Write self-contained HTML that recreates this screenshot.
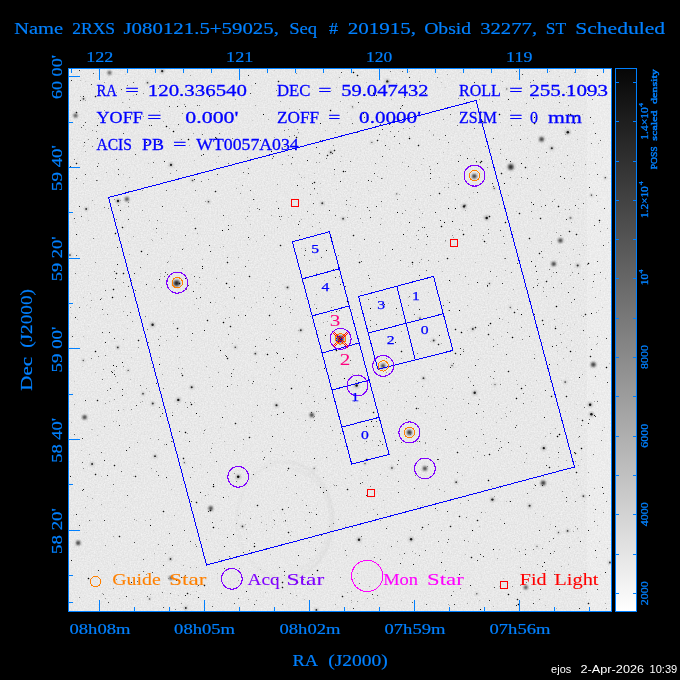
<!DOCTYPE html><html><head><meta charset="utf-8"><title>Chandra FOV</title>
<style>html,body{margin:0;padding:0;background:#000;width:680px;height:680px;overflow:hidden}svg{display:block}text{font-family:"Liberation Serif",serif;white-space:pre}.ss{font-family:"Liberation Sans",sans-serif}</style></head><body>
<svg width="680" height="680" viewBox="0 0 680 680">
<defs>
<linearGradient id="cb" x1="0" y1="0" x2="0" y2="1"><stop offset="0" stop-color="#060606"/><stop offset="1" stop-color="#ffffff"/></linearGradient>
<filter id="nz" x="0" y="0" width="100%" height="100%" color-interpolation-filters="sRGB"><feTurbulence type="fractalNoise" baseFrequency="0.7" numOctaves="2" seed="3" result="t"/><feColorMatrix in="t" type="matrix" values="0.12 0 0 0 0.85  0.12 0 0 0 0.85  0.12 0 0 0 0.85  0 0 0 0 1"/></filter>
<filter id="b1" x="-5%" y="-5%" width="110%" height="110%"><feGaussianBlur stdDeviation="0.9"/></filter>
<filter id="b0" x="-5%" y="-5%" width="110%" height="110%"><feGaussianBlur stdDeviation="0.45"/></filter>
<filter id="b2" x="-5%" y="-5%" width="110%" height="110%"><feGaussianBlur stdDeviation="1.3"/></filter>
<pattern id="chk" width="2" height="2" patternUnits="userSpaceOnUse"><rect x="0" y="0" width="1" height="1" fill="#ff0000"/><rect x="1" y="1" width="1" height="1" fill="#ff0000"/></pattern>
<clipPath id="cp"><rect x="69" y="69" width="542" height="542"/></clipPath>
</defs>
<rect width="680" height="680" fill="#000"/>
<rect x="69" y="69" width="542" height="542" fill="#e9e9e9" filter="url(#nz)"/>
<g clip-path="url(#cp)">
<rect x="587" y="69" width="24" height="542" fill="#ffffff" opacity="0.18"/>
<g fill="none" stroke="#c4c4c4" filter="url(#b1)">
<ellipse cx="285" cy="520" rx="48" ry="58" stroke-width="1.6" opacity="0.22"/>
<path d="M 285 462 A 48 58 0 0 1 285 578" stroke-width="1.6" opacity="0.25"/>
<path d="M 292 469 A 41 51 0 0 1 300 569" stroke-width="1.4" opacity="0.3"/>
</g>
<path fill="#000" d=""/>
<path fill="#000" opacity="0.1" d="M401 224h1v1h-1zM578 537h1v1h-1zM566 256h1v1h-1zM563 480h1v1h-1zM600 574h1v1h-1zM265 353h1v1h-1zM194 471h1v1h-1zM576 404h1v1h-1zM88 326h1v1h-1zM386 293h1v1h-1zM86 305h1v1h-1zM381 206h1v1h-1zM191 274h1v1h-1zM554 87h1v1h-1zM567 473h1v1h-1zM82 366h1v1h-1zM351 119h1v1h-1zM219 472h1v1h-1zM215 495h1v1h-1zM323 487h1v1h-1zM219 438h1v1h-1zM574 324h1v1h-1zM386 135h1v1h-1zM125 74h1v1h-1zM85 81h1v1h-1zM123 102h1v1h-1zM348 411h1v1h-1zM309 532h1v1h-1zM276 263h1v1h-1zM153 229h1v1h-1zM457 155h1v1h-1zM498 491h1v1h-1zM266 385h1v1h-1zM207 91h1v1h-1zM113 491h1v1h-1zM74 381h1v1h-1zM464 413h1v1h-1zM388 85h1v1h-1zM448 329h1v1h-1zM593 505h1v1h-1zM250 238h1v1h-1zM312 118h1v1h-1zM91 520h1v1h-1zM251 85h1v1h-1zM134 278h1v1h-1zM122 391h1v1h-1zM281 598h1v1h-1zM225 306h1v1h-1zM561 380h1v1h-1zM315 583h1v1h-1zM420 458h1v1h-1zM206 288h1v1h-1zM212 527h1v1h-1zM586 344h1v1h-1zM134 432h1v1h-1zM393 433h1v1h-1zM249 433h1v1h-1zM274 70h1v1h-1zM460 72h1v1h-1zM412 266h1v1h-1zM350 530h1v1h-1zM80 264h1v1h-1zM298 133h1v1h-1zM247 306h1v1h-1zM563 333h1v1h-1zM153 530h1v1h-1zM348 99h1v1h-1zM312 89h1v1h-1zM340 236h1v1h-1zM87 304h1v1h-1zM388 337h1v1h-1zM126 393h1v1h-1zM388 146h1v1h-1zM289 418h1v1h-1zM94 204h1v1h-1zM185 440h1v1h-1zM549 125h1v1h-1zM127 234h1v1h-1zM84 532h1v1h-1zM117 222h1v1h-1zM406 236h1v1h-1zM500 80h1v1h-1zM230 129h1v1h-1zM477 173h1v1h-1zM511 140h1v1h-1zM584 570h1v1h-1zM445 87h1v1h-1zM72 139h1v1h-1zM292 393h1v1h-1zM514 467h1v1h-1zM471 299h1v1h-1zM329 316h1v1h-1zM526 147h1v1h-1zM277 296h1v1h-1zM573 170h1v1h-1zM547 233h1v1h-1zM481 254h1v1h-1zM593 512h1v1h-1zM127 424h1v1h-1zM489 148h1v1h-1zM508 299h1v1h-1zM272 388h1v1h-1zM428 580h1v1h-1zM519 329h1v1h-1zM282 284h1v1h-1zM73 515h1v1h-1zM600 290h1v1h-1zM306 390h1v1h-1zM71 313h1v1h-1zM459 528h1v1h-1zM86 532h1v1h-1zM317 259h1v1h-1zM564 167h1v1h-1zM405 158h1v1h-1zM589 599h1v1h-1zM252 120h1v1h-1zM378 450h1v1h-1zM530 141h1v1h-1z"/>
<path fill="#000" opacity="0.2" d="M289 108h1v1h-1zM133 476h1v1h-1zM149 391h1v1h-1zM387 526h1v1h-1zM575 130h1v1h-1zM211 510h1v1h-1zM210 511h1v1h-1zM209 510h1v1h-1zM210 509h1v1h-1zM250 224h1v1h-1zM537 471h1v1h-1zM283 521h1v1h-1zM123 174h1v1h-1zM282 455h1v1h-1zM445 241h1v1h-1zM270 315h1v1h-1zM269 316h1v1h-1zM268 315h1v1h-1zM269 314h1v1h-1zM423 527h1v1h-1zM422 528h1v1h-1zM421 527h1v1h-1zM422 526h1v1h-1zM443 152h1v1h-1zM156 232h1v1h-1zM269 286h1v1h-1zM196 228h1v1h-1zM195 229h1v1h-1zM194 228h1v1h-1zM195 227h1v1h-1zM483 417h1v1h-1zM304 177h1v1h-1zM258 505h1v1h-1zM257 506h1v1h-1zM256 505h1v1h-1zM257 504h1v1h-1zM139 340h1v1h-1zM138 341h1v1h-1zM137 340h1v1h-1zM138 339h1v1h-1zM315 182h1v1h-1zM314 183h1v1h-1zM313 182h1v1h-1zM314 181h1v1h-1zM577 472h1v1h-1zM576 473h1v1h-1zM575 472h1v1h-1zM576 471h1v1h-1zM318 370h1v1h-1zM345 526h1v1h-1zM439 177h1v1h-1zM556 328h1v1h-1zM555 329h1v1h-1zM554 328h1v1h-1zM555 327h1v1h-1zM591 356h1v1h-1zM590 357h1v1h-1zM589 356h1v1h-1zM590 355h1v1h-1zM496 422h1v1h-1zM409 71h1v1h-1zM469 148h1v1h-1zM362 222h1v1h-1zM593 393h1v1h-1zM120 200h1v1h-1zM473 192h1v1h-1zM283 582h1v1h-1zM282 583h1v1h-1zM281 582h1v1h-1zM282 581h1v1h-1zM493 606h1v1h-1zM291 164h1v1h-1zM479 526h1v1h-1zM554 571h1v1h-1zM549 529h1v1h-1zM517 184h1v1h-1zM556 608h1v1h-1zM491 384h1v1h-1zM151 239h1v1h-1zM458 452h1v1h-1zM457 453h1v1h-1zM456 452h1v1h-1zM457 451h1v1h-1zM150 356h1v1h-1zM491 323h1v1h-1zM490 324h1v1h-1zM489 323h1v1h-1zM490 322h1v1h-1zM341 156h1v1h-1zM527 247h1v1h-1zM273 519h1v1h-1zM228 358h1v1h-1zM227 359h1v1h-1zM226 358h1v1h-1zM227 357h1v1h-1zM476 327h1v1h-1zM475 328h1v1h-1zM474 327h1v1h-1zM475 326h1v1h-1zM557 306h1v1h-1zM556 307h1v1h-1zM555 306h1v1h-1zM556 305h1v1h-1zM370 308h1v1h-1zM428 292h1v1h-1zM279 81h1v1h-1zM278 82h1v1h-1zM277 81h1v1h-1zM278 80h1v1h-1zM348 489h1v1h-1zM347 490h1v1h-1zM346 489h1v1h-1zM347 488h1v1h-1zM442 271h1v1h-1zM586 245h1v1h-1zM270 554h1v1h-1zM479 600h1v1h-1zM224 322h1v1h-1zM223 323h1v1h-1zM222 322h1v1h-1zM223 321h1v1h-1zM383 500h1v1h-1zM468 446h1v1h-1zM540 253h1v1h-1zM539 254h1v1h-1zM538 253h1v1h-1zM539 252h1v1h-1zM297 137h1v1h-1zM296 138h1v1h-1zM295 137h1v1h-1zM296 136h1v1h-1zM402 351h1v1h-1zM401 352h1v1h-1zM400 351h1v1h-1zM401 350h1v1h-1zM313 396h1v1h-1zM178 328h1v1h-1zM177 329h1v1h-1zM176 328h1v1h-1zM177 327h1v1h-1zM450 341h1v1h-1zM367 512h1v1h-1zM218 346h1v1h-1zM133 95h1v1h-1zM559 76h1v1h-1zM233 404h1v1h-1zM245 218h1v1h-1zM236 423h1v1h-1zM235 424h1v1h-1zM234 423h1v1h-1zM235 422h1v1h-1zM137 463h1v1h-1zM279 371h1v1h-1zM91 429h1v1h-1zM177 404h1v1h-1zM450 281h1v1h-1zM531 401h1v1h-1zM333 306h1v1h-1zM313 589h1v1h-1zM270 463h1v1h-1zM379 374h1v1h-1zM179 357h1v1h-1zM298 582h1v1h-1zM297 583h1v1h-1zM296 582h1v1h-1zM297 581h1v1h-1zM333 484h1v1h-1zM231 326h1v1h-1zM230 327h1v1h-1zM229 326h1v1h-1zM230 325h1v1h-1zM127 328h1v1h-1zM83 146h1v1h-1zM430 341h1v1h-1zM456 329h1v1h-1zM455 330h1v1h-1zM454 329h1v1h-1zM455 328h1v1h-1zM357 436h1v1h-1zM442 226h1v1h-1zM441 227h1v1h-1zM440 226h1v1h-1zM441 225h1v1h-1zM227 283h1v1h-1zM226 284h1v1h-1zM225 283h1v1h-1zM226 282h1v1h-1zM217 573h1v1h-1zM373 546h1v1h-1zM217 104h1v1h-1zM285 360h1v1h-1zM408 266h1v1h-1zM485 120h1v1h-1zM502 173h1v1h-1zM501 174h1v1h-1zM500 173h1v1h-1zM501 172h1v1h-1zM379 259h1v1h-1zM527 138h1v1h-1zM154 553h1v1h-1zM194 160h1v1h-1zM411 85h1v1h-1zM410 86h1v1h-1zM409 85h1v1h-1zM410 84h1v1h-1zM547 281h1v1h-1zM546 282h1v1h-1zM545 281h1v1h-1zM546 280h1v1h-1zM576 453h1v1h-1zM575 454h1v1h-1zM574 453h1v1h-1zM575 452h1v1h-1zM356 506h1v1h-1zM136 476h1v1h-1zM135 477h1v1h-1zM134 476h1v1h-1zM135 475h1v1h-1zM565 127h1v1h-1zM469 197h1v1h-1zM214 527h1v1h-1zM213 528h1v1h-1zM212 527h1v1h-1zM213 526h1v1h-1zM309 558h1v1h-1zM532 218h1v1h-1zM374 412h1v1h-1zM373 413h1v1h-1zM372 412h1v1h-1zM373 411h1v1h-1zM513 337h1v1h-1zM512 338h1v1h-1zM511 337h1v1h-1zM512 336h1v1h-1zM609 363h1v1h-1zM488 293h1v1h-1zM559 206h1v1h-1zM558 207h1v1h-1zM557 206h1v1h-1zM558 205h1v1h-1zM445 107h1v1h-1zM256 241h1v1h-1zM545 605h1v1h-1zM356 182h1v1h-1zM517 398h1v1h-1zM516 399h1v1h-1zM515 398h1v1h-1zM516 397h1v1h-1zM600 220h1v1h-1zM599 221h1v1h-1zM598 220h1v1h-1zM599 219h1v1h-1zM515 312h1v1h-1zM514 313h1v1h-1zM513 312h1v1h-1zM514 311h1v1h-1zM221 520h1v1h-1zM462 475h1v1h-1zM133 599h1v1h-1zM228 496h1v1h-1zM184 458h1v1h-1zM183 459h1v1h-1zM182 458h1v1h-1zM183 457h1v1h-1zM581 459h1v1h-1zM381 218h1v1h-1zM318 403h1v1h-1zM518 599h1v1h-1zM517 600h1v1h-1zM516 599h1v1h-1zM517 598h1v1h-1zM171 489h1v1h-1zM228 262h1v1h-1zM227 263h1v1h-1zM226 262h1v1h-1zM227 261h1v1h-1zM421 164h1v1h-1zM283 587h1v1h-1zM282 588h1v1h-1zM281 587h1v1h-1zM282 586h1v1h-1zM343 596h1v1h-1zM342 597h1v1h-1zM341 596h1v1h-1zM342 595h1v1h-1zM179 99h1v1h-1zM217 313h1v1h-1zM344 171h1v1h-1zM343 172h1v1h-1zM342 171h1v1h-1zM343 170h1v1h-1zM116 233h1v1h-1zM115 234h1v1h-1zM114 233h1v1h-1zM115 232h1v1h-1zM536 380h1v1h-1zM577 139h1v1h-1zM247 244h1v1h-1zM197 502h1v1h-1zM196 503h1v1h-1zM195 502h1v1h-1zM196 501h1v1h-1zM265 548h1v1h-1zM315 233h1v1h-1zM170 256h1v1h-1zM320 183h1v1h-1zM509 594h1v1h-1zM508 595h1v1h-1zM507 594h1v1h-1zM508 593h1v1h-1zM325 130h1v1h-1zM568 564h1v1h-1zM366 82h1v1h-1zM131 357h1v1h-1zM96 474h1v1h-1zM95 475h1v1h-1zM94 474h1v1h-1zM95 473h1v1h-1zM434 397h1v1h-1zM483 121h1v1h-1zM482 122h1v1h-1zM481 121h1v1h-1zM482 120h1v1h-1zM215 302h1v1h-1zM482 161h1v1h-1zM481 162h1v1h-1zM480 161h1v1h-1zM481 160h1v1h-1zM475 337h1v1h-1zM571 114h1v1h-1zM570 115h1v1h-1zM569 114h1v1h-1zM570 113h1v1h-1zM367 459h1v1h-1zM366 460h1v1h-1zM365 459h1v1h-1zM366 458h1v1h-1zM345 524h1v1h-1zM472 557h1v1h-1zM471 558h1v1h-1zM470 557h1v1h-1zM471 556h1v1h-1zM304 599h1v1h-1zM292 388h1v1h-1zM291 389h1v1h-1zM290 388h1v1h-1zM291 387h1v1h-1zM550 467h1v1h-1zM549 468h1v1h-1zM548 467h1v1h-1zM549 466h1v1h-1zM565 411h1v1h-1zM310 427h1v1h-1zM419 145h1v1h-1zM418 146h1v1h-1zM417 145h1v1h-1zM418 144h1v1h-1zM567 396h1v1h-1zM566 397h1v1h-1zM565 396h1v1h-1zM566 395h1v1h-1zM90 293h1v1h-1zM419 209h1v1h-1zM415 248h1v1h-1zM576 479h1v1h-1zM407 230h1v1h-1zM216 162h1v1h-1zM481 162h1v1h-1zM480 163h1v1h-1zM479 162h1v1h-1zM480 161h1v1h-1zM490 454h1v1h-1zM489 455h1v1h-1zM488 454h1v1h-1zM489 453h1v1h-1zM327 91h1v1h-1zM231 558h1v1h-1zM230 559h1v1h-1zM229 558h1v1h-1zM230 557h1v1h-1zM209 377h1v1h-1zM519 256h1v1h-1zM186 432h1v1h-1zM185 433h1v1h-1zM184 432h1v1h-1zM185 431h1v1h-1zM462 224h1v1h-1zM490 216h1v1h-1zM489 217h1v1h-1zM488 216h1v1h-1zM489 215h1v1h-1zM243 444h1v1h-1zM351 475h1v1h-1zM449 605h1v1h-1zM88 275h1v1h-1zM526 458h1v1h-1zM136 520h1v1h-1zM214 486h1v1h-1zM213 487h1v1h-1zM212 486h1v1h-1zM213 485h1v1h-1zM351 602h1v1h-1zM500 122h1v1h-1zM460 516h1v1h-1zM459 517h1v1h-1zM458 516h1v1h-1zM459 515h1v1h-1zM89 578h1v1h-1zM88 579h1v1h-1zM87 578h1v1h-1zM88 577h1v1h-1zM160 276h1v1h-1zM71 422h1v1h-1zM377 121h1v1h-1zM562 323h1v1h-1zM183 375h1v1h-1zM182 376h1v1h-1zM181 375h1v1h-1zM182 374h1v1h-1zM314 189h1v1h-1zM285 304h1v1h-1zM410 138h1v1h-1zM409 139h1v1h-1zM408 138h1v1h-1zM409 137h1v1h-1zM189 139h1v1h-1zM188 140h1v1h-1zM187 139h1v1h-1zM188 138h1v1h-1zM307 315h1v1h-1zM571 86h1v1h-1zM570 87h1v1h-1zM569 86h1v1h-1zM570 85h1v1h-1zM454 258h1v1h-1zM224 441h1v1h-1zM589 263h1v1h-1zM588 264h1v1h-1zM587 263h1v1h-1zM588 262h1v1h-1zM491 148h1v1h-1zM314 582h1v1h-1zM194 402h1v1h-1zM535 265h1v1h-1zM482 239h1v1h-1zM598 86h1v1h-1zM268 354h1v1h-1zM267 355h1v1h-1zM266 354h1v1h-1zM267 353h1v1h-1zM464 234h1v1h-1zM463 235h1v1h-1zM462 234h1v1h-1zM463 233h1v1h-1zM77 319h1v1h-1zM216 191h1v1h-1zM215 192h1v1h-1zM214 191h1v1h-1zM215 190h1v1h-1zM283 509h1v1h-1zM282 510h1v1h-1zM281 509h1v1h-1zM282 508h1v1h-1zM314 173h1v1h-1zM370 522h1v1h-1zM377 426h1v1h-1zM554 403h1v1h-1zM83 336h1v1h-1zM361 470h1v1h-1zM84 145h1v1h-1zM526 167h1v1h-1zM525 168h1v1h-1zM524 167h1v1h-1zM525 166h1v1h-1zM180 283h1v1h-1zM179 284h1v1h-1zM178 283h1v1h-1zM179 282h1v1h-1zM389 339h1v1h-1zM324 239h1v1h-1zM265 139h1v1h-1zM455 182h1v1h-1zM533 395h1v1h-1zM256 302h1v1h-1zM520 213h1v1h-1zM519 214h1v1h-1zM518 213h1v1h-1zM519 212h1v1h-1zM348 301h1v1h-1zM347 302h1v1h-1zM346 301h1v1h-1zM347 300h1v1h-1zM350 496h1v1h-1zM128 241h1v1h-1zM582 448h1v1h-1zM581 449h1v1h-1zM580 448h1v1h-1zM581 447h1v1h-1zM255 546h1v1h-1zM254 547h1v1h-1zM253 546h1v1h-1zM254 545h1v1h-1zM489 480h1v1h-1zM488 481h1v1h-1zM487 480h1v1h-1zM488 479h1v1h-1zM117 273h1v1h-1zM116 274h1v1h-1zM115 273h1v1h-1zM116 272h1v1h-1zM160 273h1v1h-1zM604 427h1v1h-1zM123 227h1v1h-1zM122 228h1v1h-1zM121 227h1v1h-1zM122 226h1v1h-1zM553 166h1v1h-1zM321 542h1v1h-1zM589 603h1v1h-1zM588 604h1v1h-1zM587 603h1v1h-1zM588 602h1v1h-1zM392 122h1v1h-1zM378 140h1v1h-1zM377 141h1v1h-1zM376 140h1v1h-1zM377 139h1v1h-1zM486 243h1v1h-1zM465 554h1v1h-1zM365 546h1v1h-1zM331 110h1v1h-1zM330 111h1v1h-1zM329 110h1v1h-1zM330 109h1v1h-1zM120 536h1v1h-1zM119 537h1v1h-1zM118 536h1v1h-1zM119 535h1v1h-1zM192 404h1v1h-1zM191 405h1v1h-1zM190 404h1v1h-1zM191 403h1v1h-1zM124 273h1v1h-1zM123 274h1v1h-1zM122 273h1v1h-1zM123 272h1v1h-1zM552 396h1v1h-1zM551 397h1v1h-1zM550 396h1v1h-1zM551 395h1v1h-1zM607 367h1v1h-1zM606 368h1v1h-1zM605 367h1v1h-1zM606 366h1v1h-1zM288 217h1v1h-1zM250 276h1v1h-1zM249 277h1v1h-1zM248 276h1v1h-1zM249 275h1v1h-1zM159 141h1v1h-1zM158 142h1v1h-1zM157 141h1v1h-1zM158 140h1v1h-1zM397 541h1v1h-1zM273 303h1v1h-1zM197 586h1v1h-1zM582 243h1v1h-1zM462 141h1v1h-1zM77 112h1v1h-1zM76 113h1v1h-1zM75 112h1v1h-1zM76 111h1v1h-1zM98 400h1v1h-1zM97 401h1v1h-1zM96 400h1v1h-1zM97 399h1v1h-1zM402 558h1v1h-1zM336 87h1v1h-1zM441 82h1v1h-1zM577 234h1v1h-1zM576 235h1v1h-1zM575 234h1v1h-1zM576 233h1v1h-1zM388 303h1v1h-1zM161 222h1v1h-1zM440 193h1v1h-1zM439 194h1v1h-1zM438 193h1v1h-1zM439 192h1v1h-1zM249 239h1v1h-1zM119 598h1v1h-1zM561 235h1v1h-1zM571 351h1v1h-1zM570 352h1v1h-1zM569 351h1v1h-1zM570 350h1v1h-1zM456 353h1v1h-1zM455 354h1v1h-1zM454 353h1v1h-1zM455 352h1v1h-1zM260 582h1v1h-1zM485 241h1v1h-1zM484 242h1v1h-1zM483 241h1v1h-1zM484 240h1v1h-1zM391 99h1v1h-1zM249 438h1v1h-1zM299 174h1v1h-1zM437 448h1v1h-1zM85 129h1v1h-1zM113 297h1v1h-1zM112 298h1v1h-1zM111 297h1v1h-1zM112 296h1v1h-1zM586 314h1v1h-1zM585 315h1v1h-1zM584 314h1v1h-1zM585 313h1v1h-1zM141 336h1v1h-1zM320 228h1v1h-1zM178 595h1v1h-1zM265 592h1v1h-1zM284 513h1v1h-1zM315 548h1v1h-1zM364 443h1v1h-1zM408 297h1v1h-1zM116 146h1v1h-1zM354 235h1v1h-1zM353 236h1v1h-1zM352 235h1v1h-1zM353 234h1v1h-1zM164 511h1v1h-1zM163 512h1v1h-1zM162 511h1v1h-1zM163 510h1v1h-1zM336 189h1v1h-1zM522 271h1v1h-1zM289 532h1v1h-1zM288 533h1v1h-1zM287 532h1v1h-1zM288 531h1v1h-1zM260 569h1v1h-1zM500 519h1v1h-1zM125 507h1v1h-1zM331 90h1v1h-1zM81 450h1v1h-1zM90 307h1v1h-1zM399 194h1v1h-1zM522 388h1v1h-1zM521 389h1v1h-1zM520 388h1v1h-1zM521 387h1v1h-1zM303 188h1v1h-1zM502 319h1v1h-1zM439 297h1v1h-1zM272 527h1v1h-1zM183 207h1v1h-1zM530 238h1v1h-1zM529 239h1v1h-1zM528 238h1v1h-1zM529 237h1v1h-1zM142 251h1v1h-1zM141 252h1v1h-1zM140 251h1v1h-1zM141 250h1v1h-1zM416 96h1v1h-1zM358 75h1v1h-1zM357 76h1v1h-1zM356 75h1v1h-1zM357 74h1v1h-1zM475 116h1v1h-1zM97 435h1v1h-1zM174 131h1v1h-1zM173 132h1v1h-1zM172 131h1v1h-1zM173 130h1v1h-1zM324 280h1v1h-1zM377 542h1v1h-1zM557 351h1v1h-1zM543 320h1v1h-1zM542 321h1v1h-1zM541 320h1v1h-1zM542 319h1v1h-1zM570 231h1v1h-1zM569 232h1v1h-1zM568 231h1v1h-1zM569 230h1v1h-1zM602 307h1v1h-1zM150 363h1v1h-1zM506 222h1v1h-1zM505 223h1v1h-1zM504 222h1v1h-1zM505 221h1v1h-1zM577 418h1v1h-1zM590 585h1v1h-1zM500 114h1v1h-1zM499 115h1v1h-1zM498 114h1v1h-1zM499 113h1v1h-1zM475 262h1v1h-1zM439 344h1v1h-1zM438 345h1v1h-1zM437 344h1v1h-1zM438 343h1v1h-1zM448 258h1v1h-1zM447 259h1v1h-1zM446 258h1v1h-1zM447 257h1v1h-1zM406 365h1v1h-1zM499 586h1v1h-1zM543 342h1v1h-1zM589 174h1v1h-1zM337 350h1v1h-1zM336 351h1v1h-1zM335 350h1v1h-1zM336 349h1v1h-1zM413 262h1v1h-1zM412 263h1v1h-1zM411 262h1v1h-1zM412 261h1v1h-1zM167 126h1v1h-1zM166 127h1v1h-1zM165 126h1v1h-1zM166 125h1v1h-1zM354 72h1v1h-1zM353 73h1v1h-1zM352 72h1v1h-1zM353 71h1v1h-1zM123 409h1v1h-1zM238 338h1v1h-1zM365 449h1v1h-1zM404 407h1v1h-1zM519 604h1v1h-1zM518 605h1v1h-1zM517 604h1v1h-1zM518 603h1v1h-1zM218 528h1v1h-1zM383 400h1v1h-1zM77 163h1v1h-1zM76 164h1v1h-1zM75 163h1v1h-1zM76 162h1v1h-1zM535 123h1v1h-1zM534 124h1v1h-1zM533 123h1v1h-1zM534 122h1v1h-1zM101 476h1v1h-1zM200 464h1v1h-1zM368 190h1v1h-1zM360 262h1v1h-1zM359 263h1v1h-1zM358 262h1v1h-1zM359 261h1v1h-1zM461 421h1v1h-1zM597 201h1v1h-1zM559 212h1v1h-1zM96 351h1v1h-1zM95 352h1v1h-1zM94 351h1v1h-1zM95 350h1v1h-1zM387 454h1v1h-1zM535 513h1v1h-1zM506 407h1v1h-1zM451 526h1v1h-1zM450 527h1v1h-1zM449 526h1v1h-1zM450 525h1v1h-1zM511 450h1v1h-1zM560 434h1v1h-1zM559 435h1v1h-1zM558 434h1v1h-1zM559 433h1v1h-1zM220 247h1v1h-1zM83 297h1v1h-1zM273 510h1v1h-1zM348 210h1v1h-1zM446 420h1v1h-1zM208 320h1v1h-1zM207 321h1v1h-1zM206 320h1v1h-1zM207 319h1v1h-1zM116 421h1v1h-1zM347 112h1v1h-1zM205 585h1v1h-1zM204 586h1v1h-1zM203 585h1v1h-1zM204 584h1v1h-1zM506 501h1v1h-1zM521 87h1v1h-1zM577 529h1v1h-1zM550 524h1v1h-1zM541 218h1v1h-1zM540 219h1v1h-1zM539 218h1v1h-1zM540 217h1v1h-1zM194 304h1v1h-1zM583 420h1v1h-1zM582 421h1v1h-1zM581 420h1v1h-1zM582 419h1v1h-1zM281 245h1v1h-1zM280 246h1v1h-1zM279 245h1v1h-1zM280 244h1v1h-1zM266 524h1v1h-1zM335 150h1v1h-1zM334 151h1v1h-1zM333 150h1v1h-1zM334 149h1v1h-1zM318 570h1v1h-1zM317 571h1v1h-1zM316 570h1v1h-1zM317 569h1v1h-1zM309 114h1v1h-1zM261 516h1v1h-1zM183 248h1v1h-1zM499 549h1v1h-1zM249 207h1v1h-1zM254 199h1v1h-1zM225 406h1v1h-1zM501 336h1v1h-1zM350 197h1v1h-1zM576 116h1v1h-1zM575 117h1v1h-1zM574 116h1v1h-1zM575 115h1v1h-1zM196 591h1v1h-1zM297 419h1v1h-1zM417 408h1v1h-1zM416 409h1v1h-1zM415 408h1v1h-1zM416 407h1v1h-1zM295 583h1v1h-1zM489 334h1v1h-1zM488 335h1v1h-1zM487 334h1v1h-1zM488 333h1v1h-1zM462 332h1v1h-1zM461 333h1v1h-1zM460 332h1v1h-1zM461 331h1v1h-1zM95 372h1v1h-1zM443 397h1v1h-1zM553 553h1v1h-1zM503 578h1v1h-1zM167 233h1v1h-1zM409 136h1v1h-1zM598 310h1v1h-1zM301 248h1v1h-1zM131 424h1v1h-1zM148 163h1v1h-1zM102 280h1v1h-1zM302 500h1v1h-1zM130 379h1v1h-1zM199 145h1v1h-1zM204 90h1v1h-1zM335 444h1v1h-1zM208 494h1v1h-1zM245 524h1v1h-1zM496 309h1v1h-1zM478 520h1v1h-1zM477 521h1v1h-1zM476 520h1v1h-1zM477 519h1v1h-1zM559 582h1v1h-1zM75 222h1v1h-1zM447 300h1v1h-1zM217 138h1v1h-1zM216 139h1v1h-1zM215 138h1v1h-1zM216 137h1v1h-1zM559 447h1v1h-1zM578 199h1v1h-1zM467 330h1v1h-1zM291 531h1v1h-1zM401 600h1v1h-1zM291 202h1v1h-1zM80 80h1v1h-1zM103 314h1v1h-1zM399 554h1v1h-1zM548 164h1v1h-1zM581 315h1v1h-1zM96 96h1v1h-1zM95 97h1v1h-1zM94 96h1v1h-1zM95 95h1v1h-1zM175 189h1v1h-1zM569 472h1v1h-1zM558 436h1v1h-1zM557 437h1v1h-1zM556 436h1v1h-1zM557 435h1v1h-1zM582 114h1v1h-1zM88 220h1v1h-1zM399 119h1v1h-1zM398 120h1v1h-1zM397 119h1v1h-1zM398 118h1v1h-1zM188 593h1v1h-1zM187 594h1v1h-1zM186 593h1v1h-1zM187 592h1v1h-1zM92 429h1v1h-1zM317 359h1v1h-1zM298 330h1v1h-1zM289 468h1v1h-1zM288 469h1v1h-1zM287 468h1v1h-1zM288 467h1v1h-1zM250 437h1v1h-1zM249 438h1v1h-1zM248 437h1v1h-1zM249 436h1v1h-1zM485 512h1v1h-1zM584 501h1v1h-1zM205 429h1v1h-1zM509 501h1v1h-1zM220 427h1v1h-1zM328 155h1v1h-1zM327 156h1v1h-1zM326 155h1v1h-1zM327 154h1v1h-1zM328 91h1v1h-1zM240 513h1v1h-1zM516 211h1v1h-1zM575 351h1v1h-1zM509 371h1v1h-1zM508 372h1v1h-1zM507 371h1v1h-1zM508 370h1v1h-1zM115 465h1v1h-1zM114 466h1v1h-1zM113 465h1v1h-1zM114 464h1v1h-1zM114 289h1v1h-1zM113 290h1v1h-1zM112 289h1v1h-1zM113 288h1v1h-1z"/>
<path fill="#000" opacity="0.3" d="M206 366h1v1h-1zM385 255h1v1h-1zM262 451h1v1h-1zM190 594h1v1h-1zM152 240h1v1h-1zM271 415h1v1h-1zM559 252h1v1h-1zM555 428h1v1h-1zM499 204h1v1h-1zM223 246h1v1h-1zM193 133h1v1h-1zM316 508h1v1h-1zM164 444h1v1h-1zM521 88h1v1h-1zM511 237h1v1h-1zM340 161h1v1h-1zM473 93h1v1h-1zM571 340h1v1h-1zM149 220h1v1h-1zM367 598h1v1h-1zM573 531h1v1h-1zM278 152h1v1h-1zM358 374h1v1h-1zM410 530h1v1h-1zM319 162h1v1h-1zM396 314h1v1h-1zM92 200h1v1h-1zM266 467h1v1h-1zM500 153h1v1h-1zM369 586h1v1h-1zM607 548h1v1h-1zM196 282h1v1h-1zM386 512h1v1h-1zM352 374h1v1h-1zM397 541h1v1h-1zM150 594h1v1h-1zM356 344h1v1h-1zM389 149h1v1h-1zM565 134h1v1h-1zM494 496h1v1h-1zM114 564h1v1h-1zM109 401h1v1h-1zM437 510h1v1h-1zM405 455h1v1h-1zM373 598h1v1h-1zM116 92h1v1h-1zM129 177h1v1h-1zM271 215h1v1h-1zM301 177h1v1h-1zM339 123h1v1h-1zM492 101h1v1h-1zM474 158h1v1h-1zM309 541h1v1h-1zM334 174h1v1h-1zM104 82h1v1h-1zM571 178h1v1h-1zM448 604h1v1h-1zM301 219h1v1h-1zM561 566h1v1h-1zM162 374h1v1h-1zM199 416h1v1h-1zM159 111h1v1h-1zM154 287h1v1h-1zM85 507h1v1h-1zM553 88h1v1h-1zM218 156h1v1h-1zM151 468h1v1h-1zM497 558h1v1h-1zM508 322h1v1h-1zM339 344h1v1h-1zM566 460h1v1h-1zM433 134h1v1h-1zM335 604h1v1h-1zM98 118h1v1h-1zM350 249h1v1h-1zM425 413h1v1h-1zM598 143h1v1h-1zM100 89h1v1h-1zM269 337h1v1h-1zM502 81h1v1h-1zM140 402h1v1h-1zM106 172h1v1h-1zM596 344h1v1h-1zM318 411h1v1h-1zM361 291h1v1h-1zM431 369h1v1h-1zM463 399h1v1h-1zM80 96h1v1h-1zM545 436h1v1h-1zM85 100h1v1h-1zM194 218h1v1h-1zM592 287h1v1h-1zM251 307h1v1h-1zM582 374h1v1h-1zM160 301h1v1h-1zM294 111h1v1h-1zM423 158h1v1h-1zM533 590h1v1h-1zM597 525h1v1h-1zM327 321h1v1h-1zM608 242h1v1h-1zM387 404h1v1h-1zM599 541h1v1h-1zM145 520h1v1h-1zM288 540h1v1h-1zM187 433h1v1h-1zM318 330h1v1h-1zM106 146h1v1h-1zM428 485h1v1h-1zM534 484h1v1h-1zM534 354h1v1h-1zM350 205h1v1h-1zM172 441h1v1h-1zM235 99h1v1h-1zM468 541h1v1h-1zM481 429h1v1h-1zM306 432h1v1h-1zM567 325h1v1h-1zM284 439h1v1h-1zM476 162h1v1h-1zM441 343h1v1h-1zM345 478h1v1h-1zM104 120h1v1h-1zM433 135h1v1h-1zM508 195h1v1h-1zM454 175h1v1h-1zM605 603h1v1h-1zM248 599h1v1h-1zM276 201h1v1h-1zM543 516h1v1h-1zM290 535h1v1h-1zM401 106h1v1h-1zM129 254h1v1h-1zM579 254h1v1h-1zM238 580h1v1h-1zM163 121h1v1h-1zM606 608h1v1h-1zM302 377h1v1h-1zM453 237h1v1h-1zM162 409h1v1h-1zM340 101h1v1h-1zM292 309h1v1h-1zM415 170h1v1h-1zM248 380h1v1h-1zM491 486h1v1h-1zM444 491h1v1h-1zM578 208h1v1h-1zM238 515h1v1h-1zM261 522h1v1h-1zM317 193h1v1h-1zM372 440h1v1h-1zM357 317h1v1h-1zM354 401h1v1h-1zM133 236h1v1h-1zM419 479h1v1h-1zM311 512h1v1h-1zM350 205h1v1h-1zM386 166h1v1h-1zM150 438h1v1h-1zM183 565h1v1h-1zM271 341h1v1h-1zM468 284h1v1h-1zM83 183h1v1h-1zM142 401h1v1h-1zM551 243h1v1h-1zM314 304h1v1h-1zM493 339h1v1h-1zM168 261h1v1h-1zM594 401h1v1h-1zM283 94h1v1h-1zM538 283h1v1h-1zM386 372h1v1h-1zM492 91h1v1h-1zM435 406h1v1h-1zM161 287h1v1h-1zM470 381h1v1h-1zM380 474h1v1h-1zM280 101h1v1h-1zM169 128h1v1h-1zM203 433h1v1h-1zM339 77h1v1h-1zM448 310h1v1h-1zM569 188h1v1h-1zM573 165h1v1h-1zM393 287h1v1h-1zM212 443h1v1h-1zM274 137h1v1h-1zM551 276h1v1h-1zM251 421h1v1h-1zM465 210h1v1h-1zM533 488h1v1h-1zM249 211h1v1h-1zM410 434h1v1h-1zM305 248h1v1h-1zM267 290h1v1h-1zM409 128h1v1h-1zM296 595h1v1h-1zM387 476h1v1h-1zM602 157h1v1h-1zM122 102h1v1h-1zM398 390h1v1h-1zM517 384h1v1h-1zM558 457h1v1h-1zM302 282h1v1h-1zM513 231h1v1h-1zM238 257h1v1h-1zM101 504h1v1h-1zM352 309h1v1h-1zM516 380h1v1h-1zM526 157h1v1h-1zM505 413h1v1h-1zM603 90h1v1h-1zM578 465h1v1h-1zM429 130h1v1h-1zM74 404h1v1h-1zM344 446h1v1h-1zM359 408h1v1h-1zM159 357h1v1h-1zM231 225h1v1h-1zM197 233h1v1h-1zM168 578h1v1h-1zM558 466h1v1h-1zM554 199h1v1h-1zM415 199h1v1h-1zM92 498h1v1h-1zM114 370h1v1h-1zM415 553h1v1h-1zM520 592h1v1h-1zM447 74h1v1h-1zM248 260h1v1h-1zM347 592h1v1h-1zM578 485h1v1h-1zM272 324h1v1h-1zM166 340h1v1h-1zM563 358h1v1h-1zM515 548h1v1h-1zM274 524h1v1h-1zM174 515h1v1h-1zM425 450h1v1h-1zM231 384h1v1h-1zM373 92h1v1h-1zM236 188h1v1h-1zM459 274h1v1h-1zM277 227h1v1h-1zM352 440h1v1h-1zM87 496h1v1h-1zM181 484h1v1h-1zM89 454h1v1h-1zM160 86h1v1h-1zM354 578h1v1h-1zM351 591h1v1h-1zM85 151h1v1h-1zM478 543h1v1h-1zM377 176h1v1h-1zM505 270h1v1h-1zM607 228h1v1h-1zM547 82h1v1h-1zM366 403h1v1h-1zM200 284h1v1h-1zM313 417h1v1h-1zM549 457h1v1h-1zM202 259h1v1h-1zM575 526h1v1h-1zM379 440h1v1h-1zM172 412h1v1h-1zM396 83h1v1h-1zM295 375h1v1h-1zM392 579h1v1h-1zM113 421h1v1h-1zM323 322h1v1h-1zM190 567h1v1h-1zM455 199h1v1h-1zM412 551h1v1h-1zM570 275h1v1h-1zM422 505h1v1h-1zM573 249h1v1h-1zM255 105h1v1h-1zM286 487h1v1h-1zM551 241h1v1h-1zM285 521h1v1h-1zM337 450h1v1h-1zM444 187h1v1h-1zM402 162h1v1h-1zM597 343h1v1h-1zM338 519h1v1h-1zM410 247h1v1h-1zM401 358h1v1h-1zM401 315h1v1h-1zM417 381h1v1h-1zM392 126h1v1h-1zM359 254h1v1h-1zM307 393h1v1h-1zM571 222h1v1h-1zM479 399h1v1h-1zM448 183h1v1h-1zM340 439h1v1h-1zM351 600h1v1h-1zM555 326h1v1h-1zM373 509h1v1h-1zM205 201h1v1h-1zM305 298h1v1h-1zM312 323h1v1h-1zM549 71h1v1h-1zM403 284h1v1h-1zM239 78h1v1h-1zM467 305h1v1h-1zM196 567h1v1h-1zM246 529h1v1h-1zM565 209h1v1h-1zM190 75h1v1h-1zM270 374h1v1h-1zM501 418h1v1h-1zM237 385h1v1h-1zM206 539h1v1h-1zM445 358h1v1h-1zM571 360h1v1h-1zM566 347h1v1h-1zM310 118h1v1h-1zM467 603h1v1h-1zM105 598h1v1h-1zM123 311h1v1h-1zM460 503h1v1h-1zM589 337h1v1h-1zM419 217h1v1h-1zM382 178h1v1h-1zM232 343h1v1h-1zM171 437h1v1h-1zM443 404h1v1h-1zM269 282h1v1h-1zM252 416h1v1h-1zM498 404h1v1h-1zM513 289h1v1h-1zM357 573h1v1h-1zM189 145h1v1h-1zM452 388h1v1h-1zM403 128h1v1h-1zM605 278h1v1h-1zM268 119h1v1h-1zM102 593h1v1h-1zM578 437h1v1h-1zM470 108h1v1h-1zM113 536h1v1h-1z"/>
<path fill="#000" opacity="0.4" d="M316 162h1v1h-1zM421 529h1v1h-1zM225 570h1v1h-1zM346 555h1v1h-1zM323 477h1v1h-1zM173 442h1v1h-1zM425 442h1v1h-1zM539 599h1v1h-1zM334 485h1v1h-1zM160 336h1v1h-1zM497 344h1v1h-1zM305 420h1v1h-1zM406 401h1v1h-1zM275 324h1v1h-1zM360 218h1v1h-1zM585 164h1v1h-1zM575 461h1v1h-1zM133 580h1v1h-1zM538 157h1v1h-1zM198 308h1v1h-1zM546 296h1v1h-1zM105 545h1v1h-1zM417 441h1v1h-1zM268 146h1v1h-1zM572 272h1v1h-1zM586 592h1v1h-1zM182 268h1v1h-1zM556 232h1v1h-1zM319 222h1v1h-1zM287 470h1v1h-1zM137 442h1v1h-1zM184 104h1v1h-1zM557 364h1v1h-1zM289 307h1v1h-1zM583 245h1v1h-1zM426 234h1v1h-1zM390 336h1v1h-1zM234 274h1v1h-1zM543 287h1v1h-1zM150 519h1v1h-1zM191 340h1v1h-1zM123 366h1v1h-1zM599 222h1v1h-1zM357 601h1v1h-1zM588 472h1v1h-1zM537 564h1v1h-1zM574 162h1v1h-1zM429 166h1v1h-1zM543 476h1v1h-1zM441 416h1v1h-1zM91 300h1v1h-1zM240 193h1v1h-1zM181 603h1v1h-1zM190 579h1v1h-1zM146 388h1v1h-1zM266 530h1v1h-1zM296 493h1v1h-1zM367 475h1v1h-1zM229 317h1v1h-1zM478 359h1v1h-1zM316 411h1v1h-1zM143 116h1v1h-1zM293 451h1v1h-1zM134 519h1v1h-1zM277 184h1v1h-1zM210 452h1v1h-1zM405 185h1v1h-1zM463 349h1v1h-1zM128 202h1v1h-1zM522 580h1v1h-1zM97 180h1v1h-1zM510 177h1v1h-1zM569 209h1v1h-1zM316 273h1v1h-1zM298 341h1v1h-1zM114 399h1v1h-1zM401 331h1v1h-1zM332 430h1v1h-1zM540 190h1v1h-1zM412 264h1v1h-1zM128 206h1v1h-1zM510 411h1v1h-1zM104 110h1v1h-1zM113 588h1v1h-1zM182 368h1v1h-1zM542 257h1v1h-1zM422 213h1v1h-1zM417 506h1v1h-1zM288 155h1v1h-1zM103 369h1v1h-1zM580 575h1v1h-1zM105 403h1v1h-1zM347 217h1v1h-1zM438 261h1v1h-1zM530 82h1v1h-1zM526 103h1v1h-1zM101 298h1v1h-1zM594 488h1v1h-1zM535 174h1v1h-1zM442 552h1v1h-1zM458 98h1v1h-1zM299 109h1v1h-1zM316 294h1v1h-1zM602 430h1v1h-1zM92 130h1v1h-1zM236 523h1v1h-1zM445 240h1v1h-1zM463 444h1v1h-1zM314 416h1v1h-1zM439 139h1v1h-1zM452 235h1v1h-1zM487 167h1v1h-1zM331 312h1v1h-1zM333 145h1v1h-1zM234 473h1v1h-1zM247 157h1v1h-1zM560 334h1v1h-1zM123 339h1v1h-1zM596 312h1v1h-1zM595 297h1v1h-1zM355 206h1v1h-1zM506 416h1v1h-1zM539 189h1v1h-1zM419 262h1v1h-1zM70 307h1v1h-1zM473 457h1v1h-1zM414 126h1v1h-1zM297 129h1v1h-1zM496 276h1v1h-1zM543 291h1v1h-1zM593 123h1v1h-1zM256 362h1v1h-1zM242 185h1v1h-1zM329 526h1v1h-1zM462 230h1v1h-1zM338 414h1v1h-1zM218 372h1v1h-1zM559 96h1v1h-1zM152 367h1v1h-1zM335 132h1v1h-1zM524 287h1v1h-1zM267 71h1v1h-1zM79 597h1v1h-1zM116 579h1v1h-1zM577 528h1v1h-1zM296 73h1v1h-1zM439 489h1v1h-1zM132 321h1v1h-1zM453 591h1v1h-1zM448 187h1v1h-1zM405 210h1v1h-1zM416 235h1v1h-1zM246 538h1v1h-1zM129 99h1v1h-1zM553 272h1v1h-1zM305 520h1v1h-1zM143 93h1v1h-1zM198 244h1v1h-1zM520 585h1v1h-1zM524 462h1v1h-1zM380 520h1v1h-1zM142 210h1v1h-1zM288 129h1v1h-1zM562 491h1v1h-1zM512 586h1v1h-1zM550 381h1v1h-1zM479 99h1v1h-1zM219 559h1v1h-1zM173 323h1v1h-1zM380 111h1v1h-1zM225 318h1v1h-1zM582 86h1v1h-1zM282 164h1v1h-1zM207 472h1v1h-1zM360 421h1v1h-1zM386 358h1v1h-1zM95 262h1v1h-1zM114 199h1v1h-1zM310 316h1v1h-1zM203 172h1v1h-1zM256 600h1v1h-1zM443 119h1v1h-1zM125 186h1v1h-1zM117 382h1v1h-1zM596 557h1v1h-1zM170 173h1v1h-1zM441 530h1v1h-1zM510 110h1v1h-1zM312 226h1v1h-1zM568 105h1v1h-1zM477 451h1v1h-1zM480 111h1v1h-1zM427 466h1v1h-1zM330 426h1v1h-1zM421 259h1v1h-1zM185 402h1v1h-1zM216 278h1v1h-1zM603 512h1v1h-1zM339 276h1v1h-1zM129 107h1v1h-1zM549 90h1v1h-1zM88 139h1v1h-1zM561 163h1v1h-1zM83 468h1v1h-1zM531 307h1v1h-1zM574 72h1v1h-1zM504 258h1v1h-1zM428 396h1v1h-1zM340 577h1v1h-1zM142 190h1v1h-1zM561 342h1v1h-1zM178 368h1v1h-1zM422 386h1v1h-1zM186 211h1v1h-1zM234 298h1v1h-1zM554 319h1v1h-1zM161 238h1v1h-1zM437 77h1v1h-1zM291 215h1v1h-1zM457 438h1v1h-1zM138 347h1v1h-1zM282 604h1v1h-1zM298 132h1v1h-1zM146 574h1v1h-1zM600 231h1v1h-1zM280 219h1v1h-1zM425 443h1v1h-1zM587 87h1v1h-1z"/>
<path fill="#000" opacity="0.5" d="M499 448h1v1h-1zM569 547h1v1h-1zM560 235h1v1h-1zM375 163h1v1h-1zM98 356h1v1h-1zM175 609h1v1h-1zM583 316h1v1h-1zM389 382h1v1h-1zM526 582h1v1h-1zM587 264h1v1h-1zM460 588h1v1h-1zM285 146h1v1h-1zM531 211h1v1h-1zM336 485h1v1h-1zM500 441h1v1h-1zM275 389h1v1h-1zM380 224h1v1h-1zM310 194h1v1h-1zM485 443h1v1h-1zM483 235h1v1h-1zM187 119h1v1h-1zM390 71h1v1h-1zM493 378h1v1h-1zM517 309h1v1h-1zM159 364h1v1h-1zM291 163h1v1h-1zM516 71h1v1h-1zM597 336h1v1h-1zM550 433h1v1h-1zM402 213h1v1h-1zM309 260h1v1h-1zM483 411h1v1h-1zM212 386h1v1h-1zM239 568h1v1h-1zM519 551h1v1h-1zM366 441h1v1h-1zM279 567h1v1h-1zM75 273h1v1h-1zM521 177h1v1h-1zM549 269h1v1h-1zM92 146h1v1h-1zM409 296h1v1h-1zM370 486h1v1h-1zM465 276h1v1h-1zM380 559h1v1h-1zM232 138h1v1h-1zM520 125h1v1h-1zM566 92h1v1h-1zM105 355h1v1h-1zM374 557h1v1h-1zM595 163h1v1h-1zM181 139h1v1h-1zM511 272h1v1h-1zM303 579h1v1h-1zM296 357h1v1h-1zM164 276h1v1h-1zM504 243h1v1h-1zM525 549h1v1h-1zM567 155h1v1h-1zM570 264h1v1h-1zM131 409h1v1h-1zM157 220h1v1h-1zM167 262h1v1h-1zM571 302h1v1h-1zM243 439h1v1h-1zM116 219h1v1h-1zM313 214h1v1h-1zM379 242h1v1h-1zM93 238h1v1h-1zM359 583h1v1h-1zM116 159h1v1h-1zM408 305h1v1h-1zM559 102h1v1h-1zM583 279h1v1h-1zM108 208h1v1h-1zM290 299h1v1h-1zM445 570h1v1h-1zM252 383h1v1h-1zM123 282h1v1h-1zM545 570h1v1h-1zM371 286h1v1h-1zM333 523h1v1h-1zM459 229h1v1h-1zM430 195h1v1h-1zM205 495h1v1h-1zM190 402h1v1h-1zM221 593h1v1h-1zM490 376h1v1h-1zM482 181h1v1h-1zM488 233h1v1h-1zM382 432h1v1h-1zM428 260h1v1h-1zM418 408h1v1h-1zM201 181h1v1h-1zM158 544h1v1h-1zM176 170h1v1h-1zM250 518h1v1h-1zM98 163h1v1h-1zM211 448h1v1h-1zM549 541h1v1h-1zM573 287h1v1h-1zM147 329h1v1h-1zM271 448h1v1h-1zM406 419h1v1h-1zM533 549h1v1h-1zM165 553h1v1h-1zM466 517h1v1h-1zM208 179h1v1h-1zM384 329h1v1h-1zM290 593h1v1h-1zM418 239h1v1h-1zM331 307h1v1h-1zM414 488h1v1h-1zM520 567h1v1h-1zM481 512h1v1h-1zM284 130h1v1h-1zM415 475h1v1h-1zM74 159h1v1h-1zM289 136h1v1h-1zM390 131h1v1h-1zM426 244h1v1h-1zM297 354h1v1h-1zM526 453h1v1h-1zM593 454h1v1h-1zM158 439h1v1h-1zM227 257h1v1h-1zM199 105h1v1h-1zM162 592h1v1h-1zM163 388h1v1h-1zM397 199h1v1h-1zM103 594h1v1h-1zM233 369h1v1h-1zM379 330h1v1h-1zM158 339h1v1h-1zM195 190h1v1h-1zM182 113h1v1h-1zM521 327h1v1h-1zM91 358h1v1h-1zM542 548h1v1h-1zM398 131h1v1h-1zM301 403h1v1h-1zM257 208h1v1h-1zM156 471h1v1h-1zM290 312h1v1h-1zM338 255h1v1h-1zM248 168h1v1h-1zM346 204h1v1h-1zM170 593h1v1h-1zM575 501h1v1h-1zM601 440h1v1h-1zM107 314h1v1h-1zM352 527h1v1h-1zM181 373h1v1h-1zM190 477h1v1h-1zM238 598h1v1h-1zM96 131h1v1h-1zM371 181h1v1h-1zM488 229h1v1h-1zM127 85h1v1h-1zM539 167h1v1h-1zM284 146h1v1h-1zM236 481h1v1h-1zM145 316h1v1h-1zM199 277h1v1h-1zM606 501h1v1h-1zM220 89h1v1h-1zM284 575h1v1h-1zM152 177h1v1h-1zM115 376h1v1h-1zM276 352h1v1h-1zM541 206h1v1h-1zM326 457h1v1h-1zM592 99h1v1h-1zM522 339h1v1h-1zM521 177h1v1h-1zM247 216h1v1h-1zM376 297h1v1h-1zM500 384h1v1h-1zM552 201h1v1h-1zM591 143h1v1h-1zM219 133h1v1h-1zM417 353h1v1h-1zM195 544h1v1h-1zM457 125h1v1h-1zM104 207h1v1h-1z"/>
<path fill="#000" opacity="0.6" d="M196 298h1v1h-1zM131 280h1v1h-1zM391 546h1v1h-1zM319 153h1v1h-1zM584 407h1v1h-1zM583 203h1v1h-1zM89 520h1v1h-1zM523 403h1v1h-1zM594 274h1v1h-1zM460 155h1v1h-1zM468 403h1v1h-1zM212 606h1v1h-1zM276 90h1v1h-1zM381 201h1v1h-1zM270 451h1v1h-1zM401 442h1v1h-1zM228 163h1v1h-1zM234 297h1v1h-1zM93 73h1v1h-1zM561 283h1v1h-1zM118 205h1v1h-1zM381 178h1v1h-1zM81 127h1v1h-1zM428 524h1v1h-1zM546 152h1v1h-1zM446 398h1v1h-1zM425 550h1v1h-1zM104 426h1v1h-1zM304 255h1v1h-1zM257 405h1v1h-1zM537 279h1v1h-1zM596 195h1v1h-1zM140 267h1v1h-1zM370 326h1v1h-1zM554 574h1v1h-1zM408 166h1v1h-1zM419 555h1v1h-1zM511 125h1v1h-1zM229 556h1v1h-1zM581 425h1v1h-1zM464 540h1v1h-1zM589 419h1v1h-1zM74 434h1v1h-1zM196 546h1v1h-1zM468 500h1v1h-1zM314 401h1v1h-1zM533 80h1v1h-1zM133 82h1v1h-1zM346 200h1v1h-1zM484 455h1v1h-1zM520 446h1v1h-1zM464 99h1v1h-1zM426 270h1v1h-1zM263 297h1v1h-1zM496 438h1v1h-1zM385 328h1v1h-1zM404 97h1v1h-1zM422 227h1v1h-1zM430 169h1v1h-1zM299 221h1v1h-1zM114 271h1v1h-1zM523 393h1v1h-1zM554 551h1v1h-1zM399 143h1v1h-1zM426 604h1v1h-1zM450 114h1v1h-1zM96 180h1v1h-1zM79 307h1v1h-1zM331 375h1v1h-1zM356 380h1v1h-1zM185 235h1v1h-1zM595 376h1v1h-1zM121 471h1v1h-1zM147 596h1v1h-1zM128 191h1v1h-1zM397 464h1v1h-1zM225 355h1v1h-1zM250 190h1v1h-1zM350 161h1v1h-1zM143 559h1v1h-1zM340 433h1v1h-1zM274 520h1v1h-1zM315 550h1v1h-1zM157 584h1v1h-1zM149 125h1v1h-1zM538 476h1v1h-1zM186 289h1v1h-1zM314 420h1v1h-1zM335 215h1v1h-1zM185 575h1v1h-1zM297 565h1v1h-1zM127 315h1v1h-1zM228 334h1v1h-1zM377 595h1v1h-1zM500 149h1v1h-1zM316 334h1v1h-1zM202 134h1v1h-1zM448 142h1v1h-1zM600 140h1v1h-1zM197 105h1v1h-1zM81 216h1v1h-1zM600 272h1v1h-1zM418 230h1v1h-1zM263 459h1v1h-1zM494 371h1v1h-1zM204 430h1v1h-1zM105 290h1v1h-1zM379 134h1v1h-1zM234 603h1v1h-1zM361 536h1v1h-1zM370 320h1v1h-1zM597 401h1v1h-1zM234 450h1v1h-1zM160 416h1v1h-1zM200 95h1v1h-1zM345 550h1v1h-1zM83 125h1v1h-1zM249 550h1v1h-1zM243 172h1v1h-1zM350 360h1v1h-1zM398 481h1v1h-1zM216 461h1v1h-1zM447 542h1v1h-1zM505 258h1v1h-1zM264 235h1v1h-1zM187 407h1v1h-1zM107 390h1v1h-1zM594 521h1v1h-1zM487 286h1v1h-1zM457 472h1v1h-1zM153 162h1v1h-1zM362 482h1v1h-1zM197 91h1v1h-1zM307 211h1v1h-1zM474 128h1v1h-1zM82 462h1v1h-1zM137 581h1v1h-1zM540 589h1v1h-1zM516 425h1v1h-1zM507 332h1v1h-1zM288 507h1v1h-1zM140 385h1v1h-1zM527 493h1v1h-1zM380 441h1v1h-1zM369 210h1v1h-1zM280 361h1v1h-1zM493 346h1v1h-1zM326 158h1v1h-1zM306 505h1v1h-1zM395 440h1v1h-1zM113 484h1v1h-1zM281 216h1v1h-1zM412 602h1v1h-1zM221 118h1v1h-1zM438 541h1v1h-1zM159 407h1v1h-1zM166 190h1v1h-1zM483 434h1v1h-1zM525 385h1v1h-1zM468 377h1v1h-1zM400 260h1v1h-1zM130 312h1v1h-1zM169 533h1v1h-1zM181 95h1v1h-1zM402 71h1v1h-1zM578 273h1v1h-1zM294 135h1v1h-1zM503 236h1v1h-1zM143 571h1v1h-1zM339 310h1v1h-1zM238 315h1v1h-1zM414 314h1v1h-1zM76 255h1v1h-1zM129 447h1v1h-1zM102 379h1v1h-1zM566 501h1v1h-1zM272 158h1v1h-1zM101 452h1v1h-1zM148 342h1v1h-1zM352 123h1v1h-1zM274 367h1v1h-1zM368 299h1v1h-1zM453 363h1v1h-1zM485 146h1v1h-1z"/>
<path fill="#000" opacity="0.7" d="M376 324h1v1h-1zM217 174h1v1h-1zM192 467h1v1h-1zM158 475h1v1h-1zM91 84h1v1h-1zM255 346h1v1h-1zM527 178h1v1h-1zM156 228h1v1h-1zM595 509h1v1h-1zM121 89h1v1h-1zM364 117h1v1h-1zM345 171h1v1h-1zM198 585h1v1h-1zM228 225h1v1h-1zM449 302h1v1h-1zM114 338h1v1h-1zM529 336h1v1h-1zM76 178h1v1h-1zM85 122h1v1h-1zM310 527h1v1h-1zM364 239h1v1h-1zM211 113h1v1h-1zM152 572h1v1h-1zM499 318h1v1h-1zM147 254h1v1h-1zM99 91h1v1h-1zM248 173h1v1h-1zM309 386h1v1h-1zM448 539h1v1h-1zM128 286h1v1h-1zM254 604h1v1h-1zM556 345h1v1h-1zM500 230h1v1h-1zM179 431h1v1h-1zM437 163h1v1h-1zM231 376h1v1h-1zM501 447h1v1h-1zM376 421h1v1h-1zM597 174h1v1h-1zM245 266h1v1h-1zM506 159h1v1h-1zM224 568h1v1h-1zM167 274h1v1h-1zM171 441h1v1h-1zM419 441h1v1h-1zM127 495h1v1h-1zM310 276h1v1h-1zM534 358h1v1h-1zM583 330h1v1h-1zM541 251h1v1h-1zM184 530h1v1h-1zM163 607h1v1h-1zM111 371h1v1h-1zM85 174h1v1h-1zM419 275h1v1h-1zM368 275h1v1h-1zM165 272h1v1h-1zM178 124h1v1h-1zM380 124h1v1h-1zM321 535h1v1h-1zM594 225h1v1h-1zM500 487h1v1h-1zM493 138h1v1h-1zM463 351h1v1h-1zM415 396h1v1h-1zM520 139h1v1h-1zM234 286h1v1h-1zM597 95h1v1h-1zM102 309h1v1h-1zM553 287h1v1h-1zM79 525h1v1h-1zM438 459h1v1h-1zM369 278h1v1h-1zM498 450h1v1h-1zM82 490h1v1h-1zM597 261h1v1h-1zM471 225h1v1h-1zM74 218h1v1h-1zM478 404h1v1h-1zM345 286h1v1h-1zM332 153h1v1h-1zM169 106h1v1h-1zM506 354h1v1h-1zM259 209h1v1h-1zM597 589h1v1h-1zM97 138h1v1h-1zM118 174h1v1h-1zM125 296h1v1h-1zM102 332h1v1h-1zM309 512h1v1h-1zM316 308h1v1h-1zM108 602h1v1h-1zM177 336h1v1h-1zM209 245h1v1h-1zM367 207h1v1h-1zM275 297h1v1h-1zM163 565h1v1h-1zM493 186h1v1h-1zM377 514h1v1h-1zM279 216h1v1h-1zM253 474h1v1h-1zM118 169h1v1h-1zM135 290h1v1h-1zM229 287h1v1h-1zM194 276h1v1h-1zM307 584h1v1h-1zM490 271h1v1h-1zM593 281h1v1h-1zM80 100h1v1h-1zM404 553h1v1h-1zM382 444h1v1h-1zM313 203h1v1h-1zM190 541h1v1h-1zM135 154h1v1h-1zM314 188h1v1h-1zM488 325h1v1h-1zM341 72h1v1h-1zM158 88h1v1h-1zM227 537h1v1h-1zM382 156h1v1h-1zM212 522h1v1h-1zM531 202h1v1h-1zM243 552h1v1h-1zM250 93h1v1h-1zM134 542h1v1h-1zM128 219h1v1h-1zM201 155h1v1h-1zM325 398h1v1h-1zM545 390h1v1h-1zM522 74h1v1h-1zM378 445h1v1h-1zM72 336h1v1h-1zM553 538h1v1h-1zM264 457h1v1h-1zM223 215h1v1h-1zM579 436h1v1h-1zM398 492h1v1h-1zM311 412h1v1h-1zM188 285h1v1h-1zM494 587h1v1h-1zM443 305h1v1h-1zM159 345h1v1h-1zM231 373h1v1h-1zM320 140h1v1h-1zM123 133h1v1h-1zM285 520h1v1h-1zM321 257h1v1h-1zM361 261h1v1h-1z"/>
<path fill="#000" opacity="0.8" d="M166 444h1v1h-1zM437 459h1v1h-1zM440 220h1v1h-1zM224 546h1v1h-1zM564 178h1v1h-1zM533 98h1v1h-1zM335 277h1v1h-1zM329 210h1v1h-1zM166 477h1v1h-1zM299 235h1v1h-1zM372 594h1v1h-1zM84 142h1v1h-1zM280 306h1v1h-1zM606 338h1v1h-1zM477 192h1v1h-1zM71 80h1v1h-1zM355 393h1v1h-1zM181 577h1v1h-1zM566 497h1v1h-1zM333 269h1v1h-1zM136 94h1v1h-1zM546 465h1v1h-1zM575 205h1v1h-1zM172 545h1v1h-1zM115 278h1v1h-1zM122 389h1v1h-1zM476 161h1v1h-1zM603 245h1v1h-1zM151 125h1v1h-1zM533 603h1v1h-1zM305 250h1v1h-1zM589 495h1v1h-1zM292 157h1v1h-1zM336 311h1v1h-1zM258 576h1v1h-1zM489 600h1v1h-1zM537 285h1v1h-1zM191 501h1v1h-1zM580 541h1v1h-1zM189 441h1v1h-1zM396 308h1v1h-1zM449 310h1v1h-1zM109 332h1v1h-1zM192 333h1v1h-1zM366 495h1v1h-1zM370 217h1v1h-1zM398 460h1v1h-1zM210 302h1v1h-1zM107 475h1v1h-1zM200 492h1v1h-1zM295 475h1v1h-1zM545 205h1v1h-1zM445 429h1v1h-1zM110 388h1v1h-1zM515 427h1v1h-1zM376 206h1v1h-1zM542 485h1v1h-1zM386 528h1v1h-1zM340 181h1v1h-1zM126 596h1v1h-1zM589 187h1v1h-1zM419 81h1v1h-1zM451 595h1v1h-1zM183 145h1v1h-1zM435 212h1v1h-1zM400 563h1v1h-1zM253 381h1v1h-1zM435 508h1v1h-1zM85 400h1v1h-1zM533 287h1v1h-1zM374 95h1v1h-1zM79 206h1v1h-1zM476 413h1v1h-1zM394 136h1v1h-1zM120 210h1v1h-1zM360 483h1v1h-1zM595 133h1v1h-1zM579 608h1v1h-1zM134 273h1v1h-1zM312 574h1v1h-1zM473 385h1v1h-1zM79 70h1v1h-1zM454 604h1v1h-1zM590 117h1v1h-1zM119 425h1v1h-1zM389 124h1v1h-1zM556 272h1v1h-1zM475 365h1v1h-1zM319 141h1v1h-1zM492 183h1v1h-1zM603 493h1v1h-1zM104 460h1v1h-1zM591 349h1v1h-1zM542 566h1v1h-1zM560 176h1v1h-1zM208 511h1v1h-1zM445 135h1v1h-1zM100 299h1v1h-1zM82 438h1v1h-1zM558 452h1v1h-1zM604 208h1v1h-1zM176 87h1v1h-1zM510 161h1v1h-1zM200 297h1v1h-1zM185 106h1v1h-1zM535 266h1v1h-1zM595 416h1v1h-1zM430 178h1v1h-1zM253 199h1v1h-1zM272 436h1v1h-1zM104 520h1v1h-1zM480 554h1v1h-1zM325 335h1v1h-1zM298 555h1v1h-1zM458 184h1v1h-1zM312 183h1v1h-1zM255 83h1v1h-1zM508 442h1v1h-1zM385 145h1v1h-1zM266 339h1v1h-1zM607 382h1v1h-1zM568 114h1v1h-1zM366 426h1v1h-1zM450 367h1v1h-1zM534 314h1v1h-1zM536 271h1v1h-1zM517 263h1v1h-1zM383 303h1v1h-1zM572 93h1v1h-1zM447 511h1v1h-1zM376 95h1v1h-1zM382 129h1v1h-1zM439 335h1v1h-1zM316 147h1v1h-1zM474 82h1v1h-1zM70 166h1v1h-1zM566 219h1v1h-1zM162 413h1v1h-1zM182 249h1v1h-1zM117 247h1v1h-1zM400 108h1v1h-1zM116 366h1v1h-1zM424 227h1v1h-1zM574 123h1v1h-1zM193 291h1v1h-1zM384 304h1v1h-1zM334 169h1v1h-1zM164 161h1v1h-1zM373 426h1v1h-1zM172 415h1v1h-1zM283 412h1v1h-1zM525 554h1v1h-1zM136 405h1v1h-1zM326 490h1v1h-1zM483 556h1v1h-1zM460 348h1v1h-1zM210 251h1v1h-1zM260 140h1v1h-1zM374 173h1v1h-1zM162 206h1v1h-1zM477 560h1v1h-1zM409 77h1v1h-1zM568 292h1v1h-1zM502 283h1v1h-1zM98 570h1v1h-1zM539 530h1v1h-1zM273 156h1v1h-1zM248 75h1v1h-1zM312 317h1v1h-1zM254 543h1v1h-1zM277 414h1v1h-1zM222 417h1v1h-1zM97 166h1v1h-1zM574 299h1v1h-1zM276 579h1v1h-1zM122 395h1v1h-1zM555 526h1v1h-1zM118 410h1v1h-1zM340 284h1v1h-1zM358 102h1v1h-1zM442 582h1v1h-1zM353 608h1v1h-1zM357 132h1v1h-1zM419 309h1v1h-1zM146 284h1v1h-1z"/>
<path fill="#000" opacity="0.9" d="M425 93h1v1h-1zM210 510h1v1h-1zM198 597h1v1h-1zM269 315h1v1h-1zM422 527h1v1h-1zM71 560h1v1h-1zM559 589h1v1h-1zM195 228h1v1h-1zM257 505h1v1h-1zM138 340h1v1h-1zM314 182h1v1h-1zM576 472h1v1h-1zM588 530h1v1h-1zM590 356h1v1h-1zM508 99h1v1h-1zM282 582h1v1h-1zM457 452h1v1h-1zM227 358h1v1h-1zM475 327h1v1h-1zM278 81h1v1h-1zM347 489h1v1h-1zM76 514h1v1h-1zM467 158h1v1h-1zM539 253h1v1h-1zM203 154h1v1h-1zM296 137h1v1h-1zM401 351h1v1h-1zM177 328h1v1h-1zM516 605h1v1h-1zM314 458h1v1h-1zM550 553h1v1h-1zM235 423h1v1h-1zM228 229h1v1h-1zM297 582h1v1h-1zM510 501h1v1h-1zM230 326h1v1h-1zM455 329h1v1h-1zM76 234h1v1h-1zM588 423h1v1h-1zM117 264h1v1h-1zM131 582h1v1h-1zM501 173h1v1h-1zM531 261h1v1h-1zM410 85h1v1h-1zM546 281h1v1h-1zM575 453h1v1h-1zM204 330h1v1h-1zM135 476h1v1h-1zM373 412h1v1h-1zM558 206h1v1h-1zM368 180h1v1h-1zM105 342h1v1h-1zM514 312h1v1h-1zM159 364h1v1h-1zM277 353h1v1h-1zM223 497h1v1h-1zM183 458h1v1h-1zM307 160h1v1h-1zM517 599h1v1h-1zM227 262h1v1h-1zM282 587h1v1h-1zM342 596h1v1h-1zM605 572h1v1h-1zM196 502h1v1h-1zM543 324h1v1h-1zM363 113h1v1h-1zM504 523h1v1h-1zM248 237h1v1h-1zM95 474h1v1h-1zM482 121h1v1h-1zM228 480h1v1h-1zM185 595h1v1h-1zM570 114h1v1h-1zM366 459h1v1h-1zM471 557h1v1h-1zM291 388h1v1h-1zM549 467h1v1h-1zM418 145h1v1h-1zM566 396h1v1h-1zM83 96h1v1h-1zM480 162h1v1h-1zM489 454h1v1h-1zM355 375h1v1h-1zM489 216h1v1h-1zM215 137h1v1h-1zM112 372h1v1h-1zM413 564h1v1h-1zM459 516h1v1h-1zM535 485h1v1h-1zM227 386h1v1h-1zM182 375h1v1h-1zM427 236h1v1h-1zM430 173h1v1h-1zM459 574h1v1h-1zM185 278h1v1h-1zM126 450h1v1h-1zM373 93h1v1h-1zM215 191h1v1h-1zM282 509h1v1h-1zM487 285h1v1h-1zM177 106h1v1h-1zM320 487h1v1h-1zM525 167h1v1h-1zM179 283h1v1h-1zM399 112h1v1h-1zM519 213h1v1h-1zM298 224h1v1h-1zM392 249h1v1h-1zM331 237h1v1h-1zM116 273h1v1h-1zM122 227h1v1h-1zM544 417h1v1h-1zM588 603h1v1h-1zM377 140h1v1h-1zM202 268h1v1h-1zM595 550h1v1h-1zM395 342h1v1h-1zM320 123h1v1h-1zM119 536h1v1h-1zM123 273h1v1h-1zM551 396h1v1h-1zM249 276h1v1h-1zM158 141h1v1h-1zM76 112h1v1h-1zM97 400h1v1h-1zM576 234h1v1h-1zM194 179h1v1h-1zM439 193h1v1h-1zM597 75h1v1h-1zM455 353h1v1h-1zM441 562h1v1h-1zM97 125h1v1h-1zM75 317h1v1h-1zM585 314h1v1h-1zM353 235h1v1h-1zM163 511h1v1h-1zM156 383h1v1h-1zM288 532h1v1h-1zM466 436h1v1h-1zM529 238h1v1h-1zM159 279h1v1h-1zM357 75h1v1h-1zM246 591h1v1h-1zM542 320h1v1h-1zM569 231h1v1h-1zM323 492h1v1h-1zM316 514h1v1h-1zM278 208h1v1h-1zM594 415h1v1h-1zM438 344h1v1h-1zM447 258h1v1h-1zM574 452h1v1h-1zM70 476h1v1h-1zM76 163h1v1h-1zM534 123h1v1h-1zM359 262h1v1h-1zM458 161h1v1h-1zM245 315h1v1h-1zM402 105h1v1h-1zM450 526h1v1h-1zM284 571h1v1h-1zM452 221h1v1h-1zM207 320h1v1h-1zM477 282h1v1h-1zM114 374h1v1h-1zM552 346h1v1h-1zM204 585h1v1h-1zM122 362h1v1h-1zM540 218h1v1h-1zM582 420h1v1h-1zM280 245h1v1h-1zM326 250h1v1h-1zM334 150h1v1h-1zM575 116h1v1h-1zM416 408h1v1h-1zM488 334h1v1h-1zM470 585h1v1h-1zM460 354h1v1h-1zM477 520h1v1h-1zM146 142h1v1h-1zM519 601h1v1h-1zM216 138h1v1h-1zM226 356h1v1h-1zM95 96h1v1h-1zM409 222h1v1h-1zM187 593h1v1h-1zM288 468h1v1h-1zM448 208h1v1h-1zM249 437h1v1h-1zM210 116h1v1h-1zM327 155h1v1h-1zM521 163h1v1h-1zM508 371h1v1h-1zM114 465h1v1h-1zM297 185h1v1h-1zM83 489h1v1h-1zM113 289h1v1h-1z"/>
<path fill="#000" opacity="1.0" d="M213 484h1v1h-1zM555 328h1v1h-1zM472 530h1v1h-1zM490 323h1v1h-1zM403 234h1v1h-1zM556 306h1v1h-1zM223 322h1v1h-1zM209 96h1v1h-1zM196 413h1v1h-1zM480 609h1v1h-1zM493 549h1v1h-1zM441 226h1v1h-1zM226 283h1v1h-1zM113 365h1v1h-1zM220 350h1v1h-1zM521 314h1v1h-1zM295 149h1v1h-1zM213 527h1v1h-1zM512 337h1v1h-1zM271 151h1v1h-1zM602 487h1v1h-1zM516 398h1v1h-1zM599 220h1v1h-1zM534 117h1v1h-1zM579 377h1v1h-1zM371 421h1v1h-1zM343 171h1v1h-1zM115 233h1v1h-1zM533 204h1v1h-1zM508 594h1v1h-1zM263 114h1v1h-1zM481 161h1v1h-1zM444 222h1v1h-1zM230 558h1v1h-1zM185 432h1v1h-1zM459 310h1v1h-1zM202 266h1v1h-1zM213 486h1v1h-1zM370 308h1v1h-1zM88 578h1v1h-1zM409 138h1v1h-1zM188 139h1v1h-1zM570 86h1v1h-1zM588 263h1v1h-1zM455 208h1v1h-1zM283 358h1v1h-1zM267 354h1v1h-1zM463 234h1v1h-1zM347 301h1v1h-1zM581 448h1v1h-1zM254 546h1v1h-1zM488 480h1v1h-1zM330 110h1v1h-1zM397 212h1v1h-1zM191 404h1v1h-1zM606 367h1v1h-1zM587 93h1v1h-1zM570 351h1v1h-1zM449 280h1v1h-1zM544 562h1v1h-1zM484 241h1v1h-1zM504 183h1v1h-1zM112 297h1v1h-1zM521 388h1v1h-1zM141 251h1v1h-1zM173 131h1v1h-1zM505 222h1v1h-1zM499 114h1v1h-1zM336 350h1v1h-1zM412 262h1v1h-1zM166 126h1v1h-1zM353 72h1v1h-1zM518 604h1v1h-1zM549 364h1v1h-1zM95 351h1v1h-1zM233 534h1v1h-1zM559 434h1v1h-1zM176 580h1v1h-1zM324 368h1v1h-1zM317 570h1v1h-1zM222 230h1v1h-1zM150 525h1v1h-1zM461 332h1v1h-1zM344 378h1v1h-1zM557 436h1v1h-1zM398 119h1v1h-1zM591 313h1v1h-1z"/>
<g filter="url(#b1)">
<circle cx="162.2" cy="71.2" r="2.08" fill="#222" opacity="0.28"/>
<circle cx="83.5" cy="98.8" r="1.56" fill="#222" opacity="0.24"/>
<circle cx="171" cy="164.9" r="2.08" fill="#222" opacity="0.28"/>
<circle cx="118" cy="201" r="2.21" fill="#222" opacity="0.28"/>
<circle cx="86.2" cy="209" r="1.82" fill="#222" opacity="0.24"/>
<circle cx="192.5" cy="180.4" r="1.43" fill="#222" opacity="0.21"/>
<circle cx="208.5" cy="201.8" r="1.43" fill="#222" opacity="0.24"/>
<circle cx="147.5" cy="82.7" r="1.43" fill="#222" opacity="0.24"/>
<circle cx="152.6" cy="324.7" r="2.21" fill="#222" opacity="0.28"/>
<circle cx="178.3" cy="399.9" r="2.21" fill="#222" opacity="0.30"/>
<circle cx="191.7" cy="387.3" r="1.82" fill="#222" opacity="0.28"/>
<circle cx="152.8" cy="403.6" r="1.82" fill="#222" opacity="0.24"/>
<circle cx="117.8" cy="347.4" r="1.69" fill="#222" opacity="0.24"/>
<circle cx="143" cy="393.7" r="1.56" fill="#222" opacity="0.24"/>
<circle cx="128.2" cy="370.4" r="1.30" fill="#222" opacity="0.21"/>
<circle cx="83.3" cy="360.5" r="1.30" fill="#222" opacity="0.21"/>
<circle cx="235.3" cy="347.2" r="1.43" fill="#222" opacity="0.24"/>
<circle cx="70" cy="255" r="1.56" fill="#222" opacity="0.24"/>
<circle cx="238.2" cy="476.8" r="2.34" fill="#222" opacity="0.32"/>
<circle cx="92.1" cy="464" r="1.82" fill="#222" opacity="0.28"/>
<circle cx="155" cy="456.2" r="1.69" fill="#222" opacity="0.28"/>
<circle cx="170.5" cy="559" r="1.69" fill="#222" opacity="0.24"/>
<circle cx="242.5" cy="526.4" r="1.56" fill="#222" opacity="0.24"/>
<circle cx="185.8" cy="608" r="1.69" fill="#222" opacity="0.28"/>
<circle cx="149.6" cy="599" r="1.30" fill="#222" opacity="0.21"/>
<circle cx="184.4" cy="462.7" r="1.17" fill="#222" opacity="0.21"/>
<circle cx="387.3" cy="81.4" r="2.21" fill="#222" opacity="0.28"/>
<circle cx="330.8" cy="152.3" r="1.69" fill="#222" opacity="0.28"/>
<circle cx="322.3" cy="203.2" r="1.82" fill="#222" opacity="0.24"/>
<circle cx="343.1" cy="218.7" r="1.69" fill="#222" opacity="0.24"/>
<circle cx="371.8" cy="142.4" r="1.30" fill="#222" opacity="0.17"/>
<circle cx="352.5" cy="106.8" r="1.17" fill="#222" opacity="0.21"/>
<circle cx="396.7" cy="193.8" r="1.17" fill="#222" opacity="0.21"/>
<circle cx="567.8" cy="132.2" r="2.34" fill="#222" opacity="0.30"/>
<circle cx="551.8" cy="148.3" r="1.95" fill="#222" opacity="0.26"/>
<circle cx="464" cy="206.4" r="2.21" fill="#222" opacity="0.28"/>
<circle cx="486.7" cy="217.9" r="2.34" fill="#222" opacity="0.30"/>
<circle cx="570.5" cy="217.9" r="1.95" fill="#222" opacity="0.12"/>
<circle cx="591.4" cy="195.1" r="1.30" fill="#222" opacity="0.28"/>
<circle cx="494.2" cy="188.4" r="1.30" fill="#222" opacity="0.21"/>
<circle cx="506.8" cy="88.9" r="1.17" fill="#222" opacity="0.21"/>
<circle cx="605.3" cy="177.7" r="1.17" fill="#222" opacity="0.28"/>
<circle cx="577.7" cy="265.5" r="1.95" fill="#222" opacity="0.24"/>
<circle cx="590.1" cy="404.7" r="2.34" fill="#222" opacity="0.30"/>
<circle cx="591.4" cy="414.3" r="2.34" fill="#222" opacity="0.30"/>
<circle cx="474.7" cy="392.7" r="2.21" fill="#222" opacity="0.28"/>
<circle cx="472.8" cy="329" r="1.82" fill="#222" opacity="0.24"/>
<circle cx="565.2" cy="382" r="1.56" fill="#222" opacity="0.24"/>
<circle cx="495" cy="384.6" r="1.30" fill="#222" opacity="0.21"/>
<circle cx="452" cy="365.6" r="1.30" fill="#222" opacity="0.24"/>
<circle cx="433.7" cy="340.5" r="1.69" fill="#222" opacity="0.24"/>
<circle cx="489.4" cy="283.5" r="1.30" fill="#222" opacity="0.21"/>
<circle cx="510.3" cy="307.5" r="1.17" fill="#222" opacity="0.21"/>
<circle cx="543.8" cy="448.2" r="2.08" fill="#222" opacity="0.30"/>
<circle cx="492.4" cy="499.6" r="2.21" fill="#222" opacity="0.28"/>
<circle cx="529.6" cy="505.7" r="1.95" fill="#222" opacity="0.24"/>
<circle cx="583.4" cy="496.1" r="1.69" fill="#222" opacity="0.24"/>
<circle cx="567.6" cy="530.9" r="1.69" fill="#222" opacity="0.24"/>
<circle cx="558.5" cy="532.5" r="1.30" fill="#222" opacity="0.21"/>
<circle cx="456.2" cy="482.2" r="1.69" fill="#222" opacity="0.24"/>
<circle cx="476.8" cy="593.8" r="1.30" fill="#222" opacity="0.21"/>
<circle cx="537" cy="546.4" r="1.17" fill="#222" opacity="0.17"/>
<circle cx="609.9" cy="562.5" r="1.69" fill="#222" opacity="0.24"/>
<circle cx="359" cy="539.7" r="2.21" fill="#222" opacity="0.28"/>
<circle cx="411.1" cy="539.2" r="2.21" fill="#222" opacity="0.28"/>
<circle cx="391.9" cy="468" r="1.95" fill="#222" opacity="0.17"/>
<circle cx="365" cy="463.5" r="1.30" fill="#222" opacity="0.21"/>
<circle cx="314.2" cy="468.3" r="1.17" fill="#222" opacity="0.21"/>
<circle cx="316.4" cy="609.9" r="1.69" fill="#222" opacity="0.28"/>
<circle cx="276.5" cy="405.3" r="1.95" fill="#222" opacity="0.28"/>
<circle cx="300.8" cy="330.2" r="1.82" fill="#222" opacity="0.24"/>
<circle cx="287.5" cy="287.4" r="1.69" fill="#222" opacity="0.24"/>
<circle cx="420" cy="318.3" r="1.95" fill="#222" opacity="0.14"/>
<circle cx="356.6" cy="385.6" r="2.34" fill="#222" opacity="0.30"/>
<circle cx="255.3" cy="353.6" r="1.56" fill="#222" opacity="0.24"/>
<circle cx="465" cy="205.3" r="1.56" fill="#222" opacity="0.17"/>
<circle cx="423.5" cy="378.2" r="1.69" fill="#222" opacity="0.24"/>
</g>
<g filter="url(#b0)">
<circle cx="162.2" cy="71.2" r="1.12" fill="#000" opacity="0.84"/>
<circle cx="83.5" cy="98.8" r="0.84" fill="#000" opacity="0.73"/>
<circle cx="171" cy="164.9" r="1.12" fill="#000" opacity="0.84"/>
<circle cx="118" cy="201" r="1.19" fill="#000" opacity="0.84"/>
<circle cx="86.2" cy="209" r="0.98" fill="#000" opacity="0.73"/>
<circle cx="192.5" cy="180.4" r="0.77" fill="#000" opacity="0.63"/>
<circle cx="208.5" cy="201.8" r="0.77" fill="#000" opacity="0.73"/>
<circle cx="147.5" cy="82.7" r="0.77" fill="#000" opacity="0.73"/>
<circle cx="152.6" cy="324.7" r="1.19" fill="#000" opacity="0.84"/>
<circle cx="178.3" cy="399.9" r="1.19" fill="#000" opacity="0.89"/>
<circle cx="191.7" cy="387.3" r="0.98" fill="#000" opacity="0.84"/>
<circle cx="152.8" cy="403.6" r="0.98" fill="#000" opacity="0.73"/>
<circle cx="117.8" cy="347.4" r="0.91" fill="#000" opacity="0.73"/>
<circle cx="143" cy="393.7" r="0.84" fill="#000" opacity="0.73"/>
<circle cx="128.2" cy="370.4" r="0.70" fill="#000" opacity="0.63"/>
<circle cx="83.3" cy="360.5" r="0.70" fill="#000" opacity="0.63"/>
<circle cx="235.3" cy="347.2" r="0.77" fill="#000" opacity="0.73"/>
<circle cx="70" cy="255" r="0.84" fill="#000" opacity="0.73"/>
<circle cx="238.2" cy="476.8" r="1.26" fill="#000" opacity="0.95"/>
<circle cx="92.1" cy="464" r="0.98" fill="#000" opacity="0.84"/>
<circle cx="155" cy="456.2" r="0.91" fill="#000" opacity="0.84"/>
<circle cx="170.5" cy="559" r="0.91" fill="#000" opacity="0.73"/>
<circle cx="242.5" cy="526.4" r="0.84" fill="#000" opacity="0.73"/>
<circle cx="185.8" cy="608" r="0.91" fill="#000" opacity="0.84"/>
<circle cx="149.6" cy="599" r="0.70" fill="#000" opacity="0.63"/>
<circle cx="184.4" cy="462.7" r="0.63" fill="#000" opacity="0.63"/>
<circle cx="387.3" cy="81.4" r="1.19" fill="#000" opacity="0.84"/>
<circle cx="330.8" cy="152.3" r="0.91" fill="#000" opacity="0.84"/>
<circle cx="322.3" cy="203.2" r="0.98" fill="#000" opacity="0.73"/>
<circle cx="343.1" cy="218.7" r="0.91" fill="#000" opacity="0.73"/>
<circle cx="371.8" cy="142.4" r="0.70" fill="#000" opacity="0.53"/>
<circle cx="352.5" cy="106.8" r="0.63" fill="#000" opacity="0.63"/>
<circle cx="396.7" cy="193.8" r="0.63" fill="#000" opacity="0.63"/>
<circle cx="567.8" cy="132.2" r="1.26" fill="#000" opacity="0.89"/>
<circle cx="551.8" cy="148.3" r="1.05" fill="#000" opacity="0.79"/>
<circle cx="464" cy="206.4" r="1.19" fill="#000" opacity="0.84"/>
<circle cx="486.7" cy="217.9" r="1.26" fill="#000" opacity="0.89"/>
<circle cx="570.5" cy="217.9" r="1.05" fill="#000" opacity="0.37"/>
<circle cx="591.4" cy="195.1" r="0.70" fill="#000" opacity="0.84"/>
<circle cx="494.2" cy="188.4" r="0.70" fill="#000" opacity="0.63"/>
<circle cx="506.8" cy="88.9" r="0.63" fill="#000" opacity="0.63"/>
<circle cx="605.3" cy="177.7" r="0.63" fill="#000" opacity="0.84"/>
<circle cx="577.7" cy="265.5" r="1.05" fill="#000" opacity="0.73"/>
<circle cx="590.1" cy="404.7" r="1.26" fill="#000" opacity="0.89"/>
<circle cx="591.4" cy="414.3" r="1.26" fill="#000" opacity="0.89"/>
<circle cx="474.7" cy="392.7" r="1.19" fill="#000" opacity="0.84"/>
<circle cx="472.8" cy="329" r="0.98" fill="#000" opacity="0.73"/>
<circle cx="565.2" cy="382" r="0.84" fill="#000" opacity="0.73"/>
<circle cx="495" cy="384.6" r="0.70" fill="#000" opacity="0.63"/>
<circle cx="452" cy="365.6" r="0.70" fill="#000" opacity="0.73"/>
<circle cx="433.7" cy="340.5" r="0.91" fill="#000" opacity="0.73"/>
<circle cx="489.4" cy="283.5" r="0.70" fill="#000" opacity="0.63"/>
<circle cx="510.3" cy="307.5" r="0.63" fill="#000" opacity="0.63"/>
<circle cx="543.8" cy="448.2" r="1.12" fill="#000" opacity="0.89"/>
<circle cx="492.4" cy="499.6" r="1.19" fill="#000" opacity="0.84"/>
<circle cx="529.6" cy="505.7" r="1.05" fill="#000" opacity="0.73"/>
<circle cx="583.4" cy="496.1" r="0.91" fill="#000" opacity="0.73"/>
<circle cx="567.6" cy="530.9" r="0.91" fill="#000" opacity="0.73"/>
<circle cx="558.5" cy="532.5" r="0.70" fill="#000" opacity="0.63"/>
<circle cx="456.2" cy="482.2" r="0.91" fill="#000" opacity="0.73"/>
<circle cx="476.8" cy="593.8" r="0.70" fill="#000" opacity="0.63"/>
<circle cx="537" cy="546.4" r="0.63" fill="#000" opacity="0.53"/>
<circle cx="609.9" cy="562.5" r="0.91" fill="#000" opacity="0.73"/>
<circle cx="359" cy="539.7" r="1.19" fill="#000" opacity="0.84"/>
<circle cx="411.1" cy="539.2" r="1.19" fill="#000" opacity="0.84"/>
<circle cx="391.9" cy="468" r="1.05" fill="#000" opacity="0.53"/>
<circle cx="365" cy="463.5" r="0.70" fill="#000" opacity="0.63"/>
<circle cx="314.2" cy="468.3" r="0.63" fill="#000" opacity="0.63"/>
<circle cx="316.4" cy="609.9" r="0.91" fill="#000" opacity="0.84"/>
<circle cx="276.5" cy="405.3" r="1.05" fill="#000" opacity="0.84"/>
<circle cx="300.8" cy="330.2" r="0.98" fill="#000" opacity="0.73"/>
<circle cx="287.5" cy="287.4" r="0.91" fill="#000" opacity="0.73"/>
<circle cx="420" cy="318.3" r="1.05" fill="#000" opacity="0.42"/>
<circle cx="356.6" cy="385.6" r="1.26" fill="#000" opacity="0.89"/>
<circle cx="255.3" cy="353.6" r="0.84" fill="#000" opacity="0.73"/>
<circle cx="465" cy="205.3" r="0.84" fill="#000" opacity="0.53"/>
<circle cx="423.5" cy="378.2" r="0.91" fill="#000" opacity="0.73"/>
</g>
<g filter="url(#b2)">
<circle cx="109.5" cy="72.8" r="2.10" fill="#222" opacity="0.48"/>
<circle cx="75.5" cy="115.6" r="2.10" fill="#222" opacity="0.51"/>
<circle cx="126.9" cy="199.2" r="2.21" fill="#222" opacity="0.51"/>
<circle cx="176.6" cy="283.2" r="3.57" fill="#222" opacity="0.57"/>
<circle cx="84.6" cy="417.3" r="2.31" fill="#222" opacity="0.54"/>
<circle cx="210.7" cy="508.4" r="2.31" fill="#222" opacity="0.54"/>
<circle cx="78.2" cy="543" r="2.42" fill="#222" opacity="0.54"/>
<circle cx="171" cy="578" r="2.10" fill="#222" opacity="0.51"/>
<circle cx="510.8" cy="167" r="3.15" fill="#222" opacity="0.57"/>
<circle cx="541.6" cy="139.2" r="2.52" fill="#222" opacity="0.54"/>
<circle cx="474.3" cy="176.2" r="2.52" fill="#222" opacity="0.54"/>
<circle cx="560.4" cy="240.6" r="2.42" fill="#222" opacity="0.54"/>
<circle cx="553.7" cy="263.9" r="2.42" fill="#222" opacity="0.54"/>
<circle cx="593.3" cy="364.6" r="2.62" fill="#222" opacity="0.54"/>
<circle cx="543.2" cy="483" r="2.62" fill="#222" opacity="0.54"/>
<circle cx="525.8" cy="587.4" r="2.10" fill="#222" opacity="0.51"/>
<circle cx="311.8" cy="415" r="2.31" fill="#222" opacity="0.54"/>
<circle cx="383" cy="366" r="2.42" fill="#222" opacity="0.54"/>
<circle cx="409.4" cy="432.4" r="2.73" fill="#222" opacity="0.57"/>
<circle cx="424.9" cy="468.5" r="2.31" fill="#222" opacity="0.54"/>
<circle cx="340.3" cy="339" r="3.99" fill="#222" opacity="0.57"/>
</g>
<g filter="url(#b1)">
<circle cx="109.5" cy="72.8" r="1.10" fill="#000" opacity="0.80"/>
<circle cx="75.5" cy="115.6" r="1.10" fill="#000" opacity="0.85"/>
<circle cx="126.9" cy="199.2" r="1.16" fill="#000" opacity="0.85"/>
<circle cx="176.6" cy="283.2" r="1.87" fill="#000" opacity="0.95"/>
<circle cx="84.6" cy="417.3" r="1.21" fill="#000" opacity="0.90"/>
<circle cx="210.7" cy="508.4" r="1.21" fill="#000" opacity="0.90"/>
<circle cx="78.2" cy="543" r="1.26" fill="#000" opacity="0.90"/>
<circle cx="171" cy="578" r="1.10" fill="#000" opacity="0.85"/>
<circle cx="510.8" cy="167" r="1.65" fill="#000" opacity="0.95"/>
<circle cx="541.6" cy="139.2" r="1.32" fill="#000" opacity="0.90"/>
<circle cx="474.3" cy="176.2" r="1.32" fill="#000" opacity="0.90"/>
<circle cx="560.4" cy="240.6" r="1.26" fill="#000" opacity="0.90"/>
<circle cx="553.7" cy="263.9" r="1.26" fill="#000" opacity="0.90"/>
<circle cx="593.3" cy="364.6" r="1.38" fill="#000" opacity="0.90"/>
<circle cx="543.2" cy="483" r="1.38" fill="#000" opacity="0.90"/>
<circle cx="525.8" cy="587.4" r="1.10" fill="#000" opacity="0.85"/>
<circle cx="311.8" cy="415" r="1.21" fill="#000" opacity="0.90"/>
<circle cx="383" cy="366" r="1.26" fill="#000" opacity="0.90"/>
<circle cx="409.4" cy="432.4" r="1.43" fill="#000" opacity="0.95"/>
<circle cx="424.9" cy="468.5" r="1.21" fill="#000" opacity="0.90"/>
<circle cx="340.3" cy="339" r="2.09" fill="#000" opacity="0.95"/>
</g>
</g>
<g fill="none" stroke-width="1" shape-rendering="crispEdges">
<polygon points="108.5,197.5 476,100.5 574.5,467 206.5,565" stroke="#0000ff"/>
<polygon points="292.4,241.8 329.4,231.7 389.1,454.4 351.7,464.1" stroke="#0000ff"/>
<line x1="302.3" y1="278.9" x2="339.3" y2="268.8" stroke="#0000ff"/>
<line x1="312.2" y1="315.9" x2="349.3" y2="305.9" stroke="#0000ff"/>
<line x1="322.0" y1="353.0" x2="359.2" y2="343.0" stroke="#0000ff"/>
<line x1="331.9" y1="390.0" x2="369.2" y2="380.2" stroke="#0000ff"/>
<line x1="341.8" y1="427.1" x2="379.2" y2="417.3" stroke="#0000ff"/>
<line x1="358.5" y1="296.5" x2="433.5" y2="276.4" stroke="#0000ff"/>
<line x1="368.6" y1="332.9" x2="443.2" y2="313.8" stroke="#0000ff"/>
<line x1="377.9" y1="369.4" x2="452.9" y2="350.4" stroke="#0000ff"/>
<line x1="358.5" y1="296.5" x2="377.9" y2="369.4" stroke="#0000ff"/>
<line x1="396.8" y1="286.5" x2="415.4" y2="360.2" stroke="#0000ff"/>
<line x1="433.5" y1="276.4" x2="452.9" y2="350.4" stroke="#0000ff"/>
<rect x="291.0" y="199.5" width="7" height="7" stroke="#ff0000"/>
<rect x="450.0" y="239.0" width="7" height="7" stroke="#ff0000"/>
<rect x="367.5" y="489.0" width="7" height="7" stroke="#ff0000"/>
<rect x="500.0" y="581.0" width="7" height="7" stroke="#ff0000"/>
</g>
<g fill="none" stroke="url(#chk)" stroke-width="3" shape-rendering="crispEdges"><path d="M333.5 332 L348.5 347 M348.5 332 L333.5 347"/></g>
<circle cx="339" cy="339" r="3" fill="none" stroke="#0000ff" stroke-width="1" stroke-dasharray="1 1.4" shape-rendering="crispEdges"/>
<g fill="none" stroke-width="1" shape-rendering="crispEdges">
<circle cx="177.3" cy="282.7" r="5.2" stroke="#ff8000"/>
<circle cx="177.3" cy="282.7" r="10.5" stroke="#8000ff"/>
<circle cx="474.5" cy="175.7" r="5.2" stroke="#ff8000"/>
<circle cx="474.5" cy="175.7" r="10.5" stroke="#8000ff"/>
<circle cx="383.2" cy="365.9" r="5.2" stroke="#ff8000"/>
<circle cx="383.2" cy="365.9" r="10.5" stroke="#8000ff"/>
<circle cx="409.4" cy="432.4" r="5.2" stroke="#ff8000"/>
<circle cx="409.4" cy="432.4" r="10.5" stroke="#8000ff"/>
<circle cx="340.6" cy="338.9" r="5.2" stroke="#ff8000"/>
<circle cx="340.6" cy="338.9" r="10.5" stroke="#8000ff"/>
<circle cx="357.4" cy="385.6" r="10.4" stroke="#8000ff"/>
<circle cx="424.9" cy="468.5" r="10.4" stroke="#8000ff"/>
<circle cx="238.2" cy="476.8" r="10.4" stroke="#8000ff"/>
<circle cx="95.5" cy="581.7" r="5.2" stroke="#ff8000"/>
<circle cx="231.8" cy="578.8" r="10.4" stroke="#8000ff"/>
<circle cx="367.2" cy="575.9" r="15.6" stroke="#ff00ff"/>
</g>
<g fill="none" stroke="#0080ff" stroke-width="1" shape-rendering="crispEdges">
<rect x="68.5" y="68.5" width="543" height="543"/>
<rect x="615.5" y="68.5" width="21" height="543"/>
<line x1="71.5" y1="69" x2="71.5" y2="73"/>
<line x1="99.5" y1="69" x2="99.5" y2="80"/>
<line x1="127.5" y1="69" x2="127.5" y2="73"/>
<line x1="155.5" y1="69" x2="155.5" y2="73"/>
<line x1="183.5" y1="69" x2="183.5" y2="73"/>
<line x1="211.5" y1="69" x2="211.5" y2="73"/>
<line x1="239.5" y1="69" x2="239.5" y2="80"/>
<line x1="267.5" y1="69" x2="267.5" y2="73"/>
<line x1="295.5" y1="69" x2="295.5" y2="73"/>
<line x1="323.5" y1="69" x2="323.5" y2="73"/>
<line x1="351.5" y1="69" x2="351.5" y2="73"/>
<line x1="379.5" y1="69" x2="379.5" y2="80"/>
<line x1="407.5" y1="69" x2="407.5" y2="73"/>
<line x1="435.5" y1="69" x2="435.5" y2="73"/>
<line x1="463.5" y1="69" x2="463.5" y2="73"/>
<line x1="491.5" y1="69" x2="491.5" y2="73"/>
<line x1="519.5" y1="69" x2="519.5" y2="80"/>
<line x1="547.5" y1="69" x2="547.5" y2="73"/>
<line x1="575.5" y1="69" x2="575.5" y2="73"/>
<line x1="603.5" y1="69" x2="603.5" y2="73"/>
<line x1="99.5" y1="611" x2="99.5" y2="600"/>
<line x1="134.5" y1="611" x2="134.5" y2="607"/>
<line x1="169.5" y1="611" x2="169.5" y2="607"/>
<line x1="204.5" y1="611" x2="204.5" y2="600"/>
<line x1="239.5" y1="611" x2="239.5" y2="607"/>
<line x1="274.5" y1="611" x2="274.5" y2="607"/>
<line x1="309.5" y1="611" x2="309.5" y2="600"/>
<line x1="344.5" y1="611" x2="344.5" y2="607"/>
<line x1="379.5" y1="611" x2="379.5" y2="607"/>
<line x1="414.5" y1="611" x2="414.5" y2="600"/>
<line x1="449.5" y1="611" x2="449.5" y2="607"/>
<line x1="484.5" y1="611" x2="484.5" y2="607"/>
<line x1="519.5" y1="611" x2="519.5" y2="600"/>
<line x1="554.5" y1="611" x2="554.5" y2="607"/>
<line x1="589.5" y1="611" x2="589.5" y2="607"/>
<line x1="69" y1="76.5" x2="80" y2="76.5"/>
<line x1="69" y1="167.5" x2="80" y2="167.5"/>
<line x1="69" y1="258.5" x2="80" y2="258.5"/>
<line x1="69" y1="348.5" x2="80" y2="348.5"/>
<line x1="69" y1="439.5" x2="80" y2="439.5"/>
<line x1="69" y1="530.5" x2="80" y2="530.5"/>
<line x1="69" y1="122.5" x2="73" y2="122.5"/>
<line x1="69" y1="212.5" x2="73" y2="212.5"/>
<line x1="69" y1="303.5" x2="73" y2="303.5"/>
<line x1="69" y1="394.5" x2="73" y2="394.5"/>
<line x1="69" y1="484.5" x2="73" y2="484.5"/>
<line x1="69" y1="575.5" x2="73" y2="575.5"/>
<line x1="69" y1="602.5" x2="73" y2="602.5"/>
<line x1="616" y1="82.5" x2="619" y2="82.5"/><line x1="633" y1="82.5" x2="636" y2="82.5"/>
<line x1="616" y1="121.5" x2="619" y2="121.5"/><line x1="633" y1="121.5" x2="636" y2="121.5"/>
<line x1="616" y1="161.5" x2="619" y2="161.5"/><line x1="633" y1="161.5" x2="636" y2="161.5"/>
<line x1="616" y1="200.5" x2="619" y2="200.5"/><line x1="633" y1="200.5" x2="636" y2="200.5"/>
<line x1="616" y1="239.5" x2="619" y2="239.5"/><line x1="633" y1="239.5" x2="636" y2="239.5"/>
<line x1="616" y1="278.5" x2="619" y2="278.5"/><line x1="633" y1="278.5" x2="636" y2="278.5"/>
<line x1="616" y1="318.5" x2="619" y2="318.5"/><line x1="633" y1="318.5" x2="636" y2="318.5"/>
<line x1="616" y1="357.5" x2="619" y2="357.5"/><line x1="633" y1="357.5" x2="636" y2="357.5"/>
<line x1="616" y1="396.5" x2="619" y2="396.5"/><line x1="633" y1="396.5" x2="636" y2="396.5"/>
<line x1="616" y1="436.5" x2="619" y2="436.5"/><line x1="633" y1="436.5" x2="636" y2="436.5"/>
<line x1="616" y1="475.5" x2="619" y2="475.5"/><line x1="633" y1="475.5" x2="636" y2="475.5"/>
<line x1="616" y1="514.5" x2="619" y2="514.5"/><line x1="633" y1="514.5" x2="636" y2="514.5"/>
<line x1="616" y1="554.5" x2="619" y2="554.5"/><line x1="633" y1="554.5" x2="636" y2="554.5"/>
<line x1="616" y1="593.5" x2="619" y2="593.5"/><line x1="633" y1="593.5" x2="636" y2="593.5"/>
</g>
<rect x="616" y="69" width="20" height="542" fill="url(#cb)"/>
<g stroke="#0080ff" stroke-width="1" shape-rendering="crispEdges">
<line x1="616" y1="82.5" x2="619" y2="82.5"/><line x1="633" y1="82.5" x2="636" y2="82.5"/>
<line x1="616" y1="121.5" x2="619" y2="121.5"/><line x1="633" y1="121.5" x2="636" y2="121.5"/>
<line x1="616" y1="161.5" x2="619" y2="161.5"/><line x1="633" y1="161.5" x2="636" y2="161.5"/>
<line x1="616" y1="200.5" x2="619" y2="200.5"/><line x1="633" y1="200.5" x2="636" y2="200.5"/>
<line x1="616" y1="239.5" x2="619" y2="239.5"/><line x1="633" y1="239.5" x2="636" y2="239.5"/>
<line x1="616" y1="278.5" x2="619" y2="278.5"/><line x1="633" y1="278.5" x2="636" y2="278.5"/>
<line x1="616" y1="318.5" x2="619" y2="318.5"/><line x1="633" y1="318.5" x2="636" y2="318.5"/>
<line x1="616" y1="357.5" x2="619" y2="357.5"/><line x1="633" y1="357.5" x2="636" y2="357.5"/>
<line x1="616" y1="396.5" x2="619" y2="396.5"/><line x1="633" y1="396.5" x2="636" y2="396.5"/>
<line x1="616" y1="436.5" x2="619" y2="436.5"/><line x1="633" y1="436.5" x2="636" y2="436.5"/>
<line x1="616" y1="475.5" x2="619" y2="475.5"/><line x1="633" y1="475.5" x2="636" y2="475.5"/>
<line x1="616" y1="514.5" x2="619" y2="514.5"/><line x1="633" y1="514.5" x2="636" y2="514.5"/>
<line x1="616" y1="554.5" x2="619" y2="554.5"/><line x1="633" y1="554.5" x2="636" y2="554.5"/>
<line x1="616" y1="593.5" x2="619" y2="593.5"/><line x1="633" y1="593.5" x2="636" y2="593.5"/>
</g>
<text x="14.20" y="34" font-size="17.5" fill="#0080ff" stroke="#0080ff" stroke-width="0.2" textLength="48.96" lengthAdjust="spacingAndGlyphs">Name</text>
<text x="72.20" y="34" font-size="17.5" fill="#0080ff" stroke="#0080ff" stroke-width="0.2" textLength="42.89" lengthAdjust="spacingAndGlyphs">2RXS</text>
<text x="123.50" y="34" font-size="17.5" fill="#0080ff" stroke="#0080ff" stroke-width="0.2" textLength="155.41" lengthAdjust="spacingAndGlyphs">J080121.5+59025,</text>
<text x="289.20" y="34" font-size="17.5" fill="#0080ff" stroke="#0080ff" stroke-width="0.2" textLength="27.93" lengthAdjust="spacingAndGlyphs">Seq</text>
<text x="329.00" y="34" font-size="17.5" fill="#0080ff" stroke="#0080ff" stroke-width="0.2" textLength="9.00" lengthAdjust="spacingAndGlyphs">#</text>
<text x="347.70" y="34" font-size="17.5" fill="#0080ff" stroke="#0080ff" stroke-width="0.2" textLength="68.35" lengthAdjust="spacingAndGlyphs">201915,</text>
<text x="424.20" y="34" font-size="17.5" fill="#0080ff" stroke="#0080ff" stroke-width="0.2" textLength="46.92" lengthAdjust="spacingAndGlyphs">Obsid</text>
<text x="480.20" y="34" font-size="17.5" fill="#0080ff" stroke="#0080ff" stroke-width="0.2" textLength="56.87" lengthAdjust="spacingAndGlyphs">32277,</text>
<text x="545.70" y="34" font-size="17.5" fill="#0080ff" stroke="#0080ff" stroke-width="0.2" textLength="20.46" lengthAdjust="spacingAndGlyphs">ST</text>
<text x="575.20" y="34" font-size="17.5" fill="#0080ff" stroke="#0080ff" stroke-width="0.2" textLength="89.91" lengthAdjust="spacingAndGlyphs">Scheduled</text>
<text x="86.26" y="61.8" font-size="14.5" fill="#0080ff" stroke="#0080ff" stroke-width="0.2" textLength="27.15" lengthAdjust="spacingAndGlyphs">122</text>
<text x="226.12" y="61.8" font-size="14.5" fill="#0080ff" stroke="#0080ff" stroke-width="0.2" textLength="27.24" lengthAdjust="spacingAndGlyphs">121</text>
<text x="366.12" y="61.8" font-size="14.5" fill="#0080ff" stroke="#0080ff" stroke-width="0.2" textLength="26.17" lengthAdjust="spacingAndGlyphs">120</text>
<text x="506.12" y="61.8" font-size="14.5" fill="#0080ff" stroke="#0080ff" stroke-width="0.2" textLength="26.26" lengthAdjust="spacingAndGlyphs">119</text>
<text x="69.50" y="633.5" font-size="14.5" fill="#0080ff" stroke="#0080ff" stroke-width="0.2" textLength="60.92" lengthAdjust="spacingAndGlyphs">08h08m</text>
<text x="174.14" y="633.5" font-size="14.5" fill="#0080ff" stroke="#0080ff" stroke-width="0.2" textLength="60.92" lengthAdjust="spacingAndGlyphs">08h05m</text>
<text x="279.50" y="633.5" font-size="14.5" fill="#0080ff" stroke="#0080ff" stroke-width="0.2" textLength="60.92" lengthAdjust="spacingAndGlyphs">08h02m</text>
<text x="384.50" y="633.5" font-size="14.5" fill="#0080ff" stroke="#0080ff" stroke-width="0.2" textLength="60.92" lengthAdjust="spacingAndGlyphs">07h59m</text>
<text x="489.50" y="633.5" font-size="14.5" fill="#0080ff" stroke="#0080ff" stroke-width="0.2" textLength="60.92" lengthAdjust="spacingAndGlyphs">07h56m</text>
<text x="292.56" y="665.6" font-size="17" fill="#0080ff" stroke="#0080ff" stroke-width="0.2" textLength="25.56" lengthAdjust="spacingAndGlyphs">RA</text>
<text x="328.20" y="665.6" font-size="17" fill="#0080ff" stroke="#0080ff" stroke-width="0.2" textLength="59.60" lengthAdjust="spacingAndGlyphs">(J2000)</text>
<text transform="translate(62,99.00) rotate(-90)" font-size="14.5" fill="#0080ff" stroke="#0080ff" stroke-width="0.2" textLength="44.00" lengthAdjust="spacingAndGlyphs">60 00'</text>
<text transform="translate(62,190.95) rotate(-90)" font-size="14.5" fill="#0080ff" stroke="#0080ff" stroke-width="0.2" textLength="45.88" lengthAdjust="spacingAndGlyphs">59 40'</text>
<text transform="translate(62,281.30) rotate(-90)" font-size="14.5" fill="#0080ff" stroke="#0080ff" stroke-width="0.2" textLength="44.97" lengthAdjust="spacingAndGlyphs">59 20'</text>
<text transform="translate(62,372.45) rotate(-90)" font-size="14.5" fill="#0080ff" stroke="#0080ff" stroke-width="0.2" textLength="45.91" lengthAdjust="spacingAndGlyphs">59 00'</text>
<text transform="translate(62,462.80) rotate(-90)" font-size="14.5" fill="#0080ff" stroke="#0080ff" stroke-width="0.2" textLength="44.92" lengthAdjust="spacingAndGlyphs">58 40'</text>
<text transform="translate(62,553.95) rotate(-90)" font-size="14.5" fill="#0080ff" stroke="#0080ff" stroke-width="0.2" textLength="45.88" lengthAdjust="spacingAndGlyphs">58 20'</text>
<text transform="translate(31.7,390.72) rotate(-90)" font-size="17.5" fill="#0080ff" stroke="#0080ff" stroke-width="0.2" textLength="33.81" lengthAdjust="spacingAndGlyphs">Dec</text>
<text transform="translate(31.7,347.80) rotate(-90)" font-size="17.5" fill="#0080ff" stroke="#0080ff" stroke-width="0.2" textLength="58.70" lengthAdjust="spacingAndGlyphs">(J2000)</text>
<text x="96.50" y="96" font-size="17.5" fill="#0000ff" stroke="#0000ff" stroke-width="0.3" textLength="20.54" lengthAdjust="spacingAndGlyphs">RA</text>
<text x="125.34" y="96" font-size="17.5" fill="#0000ff" stroke="#0000ff" stroke-width="0.3" textLength="13.62" lengthAdjust="spacingAndGlyphs">=</text>
<text x="147.76" y="96" font-size="17.5" fill="#0000ff" stroke="#0000ff" stroke-width="0.3" textLength="99.23" lengthAdjust="spacingAndGlyphs">120.336540</text>
<text x="276.92" y="96" font-size="17.5" fill="#0000ff" stroke="#0000ff" stroke-width="0.3" textLength="33.47" lengthAdjust="spacingAndGlyphs">DEC</text>
<text x="318.20" y="96" font-size="17.5" fill="#0000ff" stroke="#0000ff" stroke-width="0.3" textLength="13.18" lengthAdjust="spacingAndGlyphs">=</text>
<text x="341.20" y="96" font-size="17.5" fill="#0000ff" stroke="#0000ff" stroke-width="0.3" textLength="87.32" lengthAdjust="spacingAndGlyphs">59.047432</text>
<text x="459.00" y="96" font-size="17.5" fill="#0000ff" stroke="#0000ff" stroke-width="0.3" textLength="41.92" lengthAdjust="spacingAndGlyphs">ROLL</text>
<text x="509.20" y="96" font-size="17.5" fill="#0000ff" stroke="#0000ff" stroke-width="0.3" textLength="13.18" lengthAdjust="spacingAndGlyphs">=</text>
<text x="529.20" y="96" font-size="17.5" fill="#0000ff" stroke="#0000ff" stroke-width="0.3" textLength="78.85" lengthAdjust="spacingAndGlyphs">255.1093</text>
<text x="96.50" y="122.8" font-size="17.5" fill="#0000ff" stroke="#0000ff" stroke-width="0.3" textLength="46.29" lengthAdjust="spacingAndGlyphs">YOFF</text>
<text x="147.20" y="122.8" font-size="17.5" fill="#0000ff" stroke="#0000ff" stroke-width="0.3" textLength="14.15" lengthAdjust="spacingAndGlyphs">=</text>
<text x="185.34" y="122.8" font-size="17.5" fill="#0000ff" stroke="#0000ff" stroke-width="0.3" textLength="53.13" lengthAdjust="spacingAndGlyphs">0.000'</text>
<text x="276.92" y="122.8" font-size="17.5" fill="#0000ff" stroke="#0000ff" stroke-width="0.3" textLength="42.16" lengthAdjust="spacingAndGlyphs">ZOFF</text>
<text x="328.20" y="122.8" font-size="17.5" fill="#0000ff" stroke="#0000ff" stroke-width="0.3" textLength="12.05" lengthAdjust="spacingAndGlyphs">=</text>
<text x="359.14" y="122.8" font-size="17.5" fill="#0000ff" stroke="#0000ff" stroke-width="0.3" textLength="61.82" lengthAdjust="spacingAndGlyphs">0.0000'</text>
<text x="459.00" y="122.8" font-size="17.5" fill="#0000ff" stroke="#0000ff" stroke-width="0.3" textLength="38.00" lengthAdjust="spacingAndGlyphs">ZSIM</text>
<text x="509.20" y="122.8" font-size="17.5" fill="#0000ff" stroke="#0000ff" stroke-width="0.3" textLength="13.18" lengthAdjust="spacingAndGlyphs">=</text>
<text x="530.00" y="122.8" font-size="17.5" fill="#0000ff" stroke="#0000ff" stroke-width="0.3" textLength="8.00" lengthAdjust="spacingAndGlyphs">0</text>
<text x="548.14" y="122.8" font-size="17.5" fill="#0000ff" stroke="#0000ff" stroke-width="0.3" textLength="33.71" lengthAdjust="spacingAndGlyphs">mm</text>
<text x="96.50" y="149.6" font-size="17.5" fill="#0000ff" stroke="#0000ff" stroke-width="0.3" textLength="35.45" lengthAdjust="spacingAndGlyphs">ACIS</text>
<text x="141.92" y="149.6" font-size="17.5" fill="#0000ff" stroke="#0000ff" stroke-width="0.3" textLength="21.95" lengthAdjust="spacingAndGlyphs">PB</text>
<text x="173.06" y="149.6" font-size="17.5" fill="#0000ff" stroke="#0000ff" stroke-width="0.3" textLength="13.40" lengthAdjust="spacingAndGlyphs">=</text>
<text x="196.22" y="149.6" font-size="17.5" fill="#0000ff" stroke="#0000ff" stroke-width="0.3" textLength="102.51" lengthAdjust="spacingAndGlyphs">WT0057A034</text>
<text x="112.28" y="585" font-size="17.5" fill="#ff8000" stroke="#ff8000" stroke-width="0.1" textLength="48.56" lengthAdjust="spacingAndGlyphs">Guide</text>
<text x="169.34" y="585" font-size="17.5" fill="#ff8000" stroke="#ff8000" stroke-width="0.1" textLength="37.01" lengthAdjust="spacingAndGlyphs">Star</text>
<text x="247.50" y="585" font-size="17.5" fill="#8000ff" stroke="#8000ff" stroke-width="0.1" textLength="32.11" lengthAdjust="spacingAndGlyphs">Acq</text>
<text x="286.62" y="585" font-size="17.5" fill="#8000ff" stroke="#8000ff" stroke-width="0.1" textLength="37.59" lengthAdjust="spacingAndGlyphs">Star</text>
<text x="383.20" y="585" font-size="17.5" fill="#ff00ff" stroke="#ff00ff" stroke-width="0.1" textLength="34.86" lengthAdjust="spacingAndGlyphs">Mon</text>
<text x="427.12" y="585" font-size="17.5" fill="#ff00ff" stroke="#ff00ff" stroke-width="0.1" textLength="36.65" lengthAdjust="spacingAndGlyphs">Star</text>
<text x="519.78" y="585" font-size="17.5" fill="#ff0000" stroke="#ff0000" stroke-width="0.1" textLength="26.88" lengthAdjust="spacingAndGlyphs">Fid</text>
<text x="554.34" y="585" font-size="17.5" fill="#ff0000" stroke="#ff0000" stroke-width="0.1" textLength="44.22" lengthAdjust="spacingAndGlyphs">Light</text>
<text class="ss" x="551.14" y="672.5" font-size="10.5" fill="#ffffff" textLength="20.10" lengthAdjust="spacingAndGlyphs">ejos</text>
<text class="ss" x="580.56" y="672.5" font-size="10.5" fill="#ffffff" textLength="63.54" lengthAdjust="spacingAndGlyphs">2-Apr-2026</text>
<text class="ss" x="649.48" y="672.5" font-size="10.5" fill="#ffffff" textLength="27.75" lengthAdjust="spacingAndGlyphs">10:39</text>
<text transform="translate(648.3,369.00) rotate(-90)" font-size="9.5" fill="#0080ff" stroke="#0080ff" stroke-width="0.25" textLength="24.00" lengthAdjust="spacingAndGlyphs">8000</text>
<text transform="translate(648.3,447.86) rotate(-90)" font-size="9.5" fill="#0080ff" stroke="#0080ff" stroke-width="0.25" textLength="24.08" lengthAdjust="spacingAndGlyphs">6000</text>
<text transform="translate(648.3,526.36) rotate(-90)" font-size="9.5" fill="#0080ff" stroke="#0080ff" stroke-width="0.25" textLength="23.99" lengthAdjust="spacingAndGlyphs">4000</text>
<text transform="translate(648.3,605.36) rotate(-90)" font-size="9.5" fill="#0080ff" stroke="#0080ff" stroke-width="0.25" textLength="23.99" lengthAdjust="spacingAndGlyphs">2000</text>
<text transform="translate(657,169.36) rotate(-90)" font-size="9" fill="#0080ff" stroke="#0080ff" stroke-width="0.45" textLength="22.95" lengthAdjust="spacingAndGlyphs">POSS</text>
<text transform="translate(657,140.64) rotate(-90)" font-size="9" fill="#0080ff" stroke="#0080ff" stroke-width="0.45" textLength="30.18" lengthAdjust="spacingAndGlyphs">scaled</text>
<text transform="translate(657,104.08) rotate(-90)" font-size="9" fill="#0080ff" stroke="#0080ff" stroke-width="0.45" textLength="34.93" lengthAdjust="spacingAndGlyphs">density</text>
<text transform="translate(648.3,139.80) rotate(-90)" font-size="10" fill="#0080ff" stroke="#0080ff" stroke-width="0.35" textLength="32.74" lengthAdjust="spacingAndGlyphs">1.4×10</text>
<text transform="translate(643,107.00) rotate(-90)" font-size="7" fill="#0080ff" stroke="#0080ff" stroke-width="0.3" textLength="4.00" lengthAdjust="spacingAndGlyphs">4</text>
<text transform="translate(648.3,218.08) rotate(-90)" font-size="10" fill="#0080ff" stroke="#0080ff" stroke-width="0.35" textLength="31.78" lengthAdjust="spacingAndGlyphs">1.2×10</text>
<text transform="translate(643,185.28) rotate(-90)" font-size="7" fill="#0080ff" stroke="#0080ff" stroke-width="0.3" textLength="4.00" lengthAdjust="spacingAndGlyphs">4</text>
<text transform="translate(648.3,285.30) rotate(-90)" font-size="10" fill="#0080ff" stroke="#0080ff" stroke-width="0.35" textLength="11.52" lengthAdjust="spacingAndGlyphs">10</text>
<text transform="translate(643,273.50) rotate(-90)" font-size="7" fill="#0080ff" stroke="#0080ff" stroke-width="0.3" textLength="3.99" lengthAdjust="spacingAndGlyphs">4</text>
<text x="311.39" y="252.62" font-size="12.5" fill="#0000ff" stroke="#0000ff" stroke-width="0.25" textLength="7.81" lengthAdjust="spacingAndGlyphs">5</text>
<text x="321.59" y="290.62" font-size="12.5" fill="#0000ff" stroke="#0000ff" stroke-width="0.25" textLength="7.81" lengthAdjust="spacingAndGlyphs">4</text>
<text x="351.39" y="401.22" font-size="12.5" fill="#0000ff" stroke="#0000ff" stroke-width="0.25" textLength="7.81" lengthAdjust="spacingAndGlyphs">1</text>
<text x="361.09" y="438.62" font-size="12.5" fill="#0000ff" stroke="#0000ff" stroke-width="0.25" textLength="7.81" lengthAdjust="spacingAndGlyphs">0</text>
<text x="377.19" y="309.43" font-size="12.5" fill="#0000ff" stroke="#0000ff" stroke-width="0.25" textLength="7.81" lengthAdjust="spacingAndGlyphs">3</text>
<text x="411.99" y="300.32" font-size="12.5" fill="#0000ff" stroke="#0000ff" stroke-width="0.25" textLength="7.81" lengthAdjust="spacingAndGlyphs">1</text>
<text x="386.79" y="343.62" font-size="12.5" fill="#0000ff" stroke="#0000ff" stroke-width="0.25" textLength="7.81" lengthAdjust="spacingAndGlyphs">2</text>
<text x="420.79" y="334.43" font-size="12.5" fill="#0000ff" stroke="#0000ff" stroke-width="0.25" textLength="7.81" lengthAdjust="spacingAndGlyphs">0</text>
<text x="329.69" y="325.91" font-size="17" fill="#ff0080" stroke="#ff0080" stroke-width="0" textLength="10.62" lengthAdjust="spacingAndGlyphs">3</text>
<text x="339.89" y="364.81" font-size="17" fill="#ff0080" stroke="#ff0080" stroke-width="0" textLength="10.62" lengthAdjust="spacingAndGlyphs">2</text>
</svg></body></html>
